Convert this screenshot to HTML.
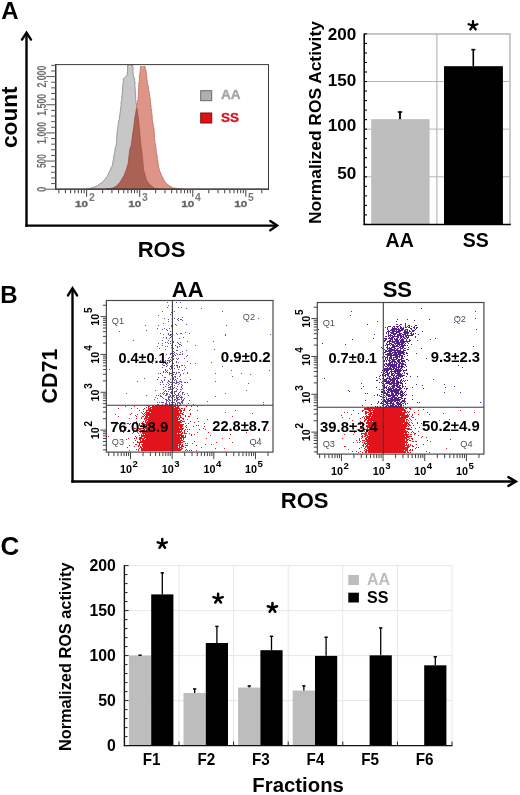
<!DOCTYPE html>
<html><head><meta charset="utf-8"><style>
html,body{margin:0;padding:0;background:#fff;}
svg{display:block;font-family:"Liberation Sans", sans-serif;filter:blur(0.3px);}
</style></head><body>
<svg width="520" height="795" viewBox="0 0 520 795" font-family='"Liberation Sans", sans-serif'>
<rect width="520" height="795" fill="#fff"/>
<text x="1.20" y="19.00" font-size="24" font-weight="bold" fill="#000" text-anchor="start" >A</text>
<text x="0.20" y="303.40" font-size="24" font-weight="bold" fill="#000" text-anchor="start" >B</text>
<text x="0.40" y="554.60" font-size="26" font-weight="bold" fill="#000" text-anchor="start" >C</text>
<line x1="26.50" y1="33.00" x2="26.50" y2="226.80" stroke="#000" stroke-width="2.4" />
<line x1="25.30" y1="225.60" x2="277.00" y2="225.60" stroke="#000" stroke-width="2.3" />
<polyline points="22.00,39.60 26.50,32.60 31.00,39.60" fill="none" stroke="#000" stroke-width="2.4" stroke-linejoin="miter" stroke-miterlimit="10" stroke-linecap="round"/>
<polyline points="270.30,221.00 277.20,225.60 270.30,230.30" fill="none" stroke="#000" stroke-width="2.4" stroke-linejoin="miter" stroke-miterlimit="10" stroke-linecap="round"/>
<text transform="translate(17.30,117.20) rotate(-90)" x="0" y="0" font-size="22.6" font-weight="bold" fill="#000" text-anchor="middle" >count</text>
<text x="161.50" y="257.00" font-size="22" font-weight="bold" fill="#000" text-anchor="middle" >ROS</text>
<polygon points="127.47,65.50 127.59,67.00 127.47,68.50 127.56,70.00 127.54,71.50 127.22,73.00 127.17,74.50 126.62,76.00 124.68,77.50 123.23,79.00 123.49,80.50 123.11,82.00 123.18,83.50 122.88,85.00 122.84,86.50 122.48,88.00 122.61,89.50 122.59,91.00 122.29,92.50 122.26,94.00 122.09,95.50 121.65,97.00 121.86,98.50 121.65,100.00 121.31,101.50 120.99,103.00 121.22,104.50 120.84,106.00 120.77,107.50 120.66,109.00 120.39,110.50 120.31,112.00 119.86,113.50 119.88,115.00 119.51,116.50 119.57,118.00 119.35,119.50 118.71,121.00 118.45,122.50 118.21,124.00 118.30,125.50 117.76,127.00 117.62,128.50 117.31,130.00 117.27,131.50 117.07,133.00 116.91,134.50 116.89,136.00 116.75,137.50 116.77,139.00 116.51,140.50 116.50,142.00 116.32,143.50 116.25,145.00 115.73,146.50 115.11,148.00 115.10,149.50 114.88,151.00 114.62,152.50 114.23,154.00 114.07,155.50 113.59,157.00 113.68,158.50 113.32,160.00 112.95,161.50 112.61,163.00 112.78,164.50 112.19,166.00 111.09,167.50 110.79,169.00 109.94,170.50 109.15,172.00 108.56,173.50 108.13,175.00 107.17,176.50 105.73,178.00 105.00,179.50 103.34,181.00 102.13,182.50 99.75,184.00 97.52,185.50 94.49,187.00 89.50,188.50 86.25,189.20 160.17,189.20 156.95,188.50 152.75,187.00 150.85,185.50 149.24,184.00 148.03,182.50 147.14,181.00 146.55,179.50 146.02,178.00 145.44,176.50 144.93,175.00 144.86,173.50 144.23,172.00 144.01,170.50 143.52,169.00 143.36,167.50 143.10,166.00 143.25,164.50 142.97,163.00 142.69,161.50 142.57,160.00 142.70,158.50 142.26,157.00 142.16,155.50 142.22,154.00 141.98,152.50 141.56,151.00 141.75,149.50 141.28,148.00 140.97,146.50 140.85,145.00 140.61,143.50 140.46,142.00 140.36,140.50 140.22,139.00 140.23,137.50 140.04,136.00 139.81,134.50 140.04,133.00 139.78,131.50 139.34,130.00 139.20,128.50 139.42,127.00 139.25,125.50 138.93,124.00 138.94,122.50 138.68,121.00 138.59,119.50 138.10,118.00 138.18,116.50 137.96,115.00 137.45,113.50 137.52,112.00 137.23,110.50 136.82,109.00 136.87,107.50 136.65,106.00 136.67,104.50 136.12,103.00 135.88,101.50 135.91,100.00 135.67,98.50 135.62,97.00 135.75,95.50 135.50,94.00 135.38,92.50 135.30,91.00 135.24,89.50 135.08,88.00 134.96,86.50 134.83,85.00 135.00,83.50 134.94,82.00 134.53,80.50 134.71,79.00 133.90,77.50 133.40,76.00 133.24,74.50 133.11,73.00 132.98,71.50 132.86,70.00 133.11,68.50 132.82,67.00 132.90,65.50" fill="#c7c7c7" stroke="#8e8e8e" stroke-width="0.9" />
<polygon points="140.46,66.50 140.39,68.00 140.29,69.50 140.23,71.00 139.98,72.50 139.93,74.00 139.35,75.50 139.42,77.00 139.52,78.50 139.28,80.00 139.32,81.50 138.83,83.00 138.92,84.50 138.72,86.00 138.78,87.50 138.70,89.00 138.33,90.50 138.34,92.00 138.28,93.50 138.51,95.00 138.34,96.50 137.95,98.00 138.18,99.50 137.65,101.00 137.63,102.50 137.13,104.00 136.82,105.50 137.00,107.00 136.41,108.50 136.16,110.00 136.29,111.50 135.98,113.00 135.43,114.50 135.51,116.00 135.04,117.50 134.86,119.00 134.40,120.50 134.60,122.00 134.30,123.50 134.27,125.00 134.07,126.50 133.60,128.00 133.43,129.50 133.13,131.00 132.91,132.50 132.67,134.00 132.59,135.50 132.53,137.00 132.03,138.50 132.17,140.00 131.79,141.50 131.58,143.00 131.63,144.50 131.07,146.00 130.51,147.50 130.11,149.00 129.85,150.50 129.35,152.00 129.64,153.50 128.99,155.00 129.18,156.50 129.06,158.00 128.47,159.50 128.69,161.00 128.30,162.50 128.24,164.00 127.48,165.50 127.02,167.00 126.62,168.50 126.53,170.00 125.55,171.50 125.23,173.00 124.71,174.50 123.96,176.00 122.82,177.50 121.99,179.00 121.18,180.50 120.30,182.00 118.84,183.50 117.76,185.00 115.92,186.50 113.18,188.00 105.77,189.20 182.16,189.20 172.98,188.00 170.54,186.50 168.28,185.00 166.62,183.50 165.02,182.00 164.21,180.50 163.37,179.00 162.77,177.50 161.70,176.00 161.20,174.50 160.63,173.00 159.89,171.50 159.19,170.00 159.08,168.50 158.58,167.00 158.45,165.50 158.08,164.00 157.90,162.50 157.75,161.00 157.56,159.50 157.16,158.00 157.22,156.50 156.98,155.00 156.54,153.50 156.25,152.00 156.18,150.50 156.02,149.00 155.81,147.50 155.71,146.00 155.50,144.50 155.05,143.00 154.79,141.50 154.78,140.00 154.58,138.50 154.54,137.00 154.52,135.50 154.26,134.00 154.10,132.50 154.22,131.00 154.02,129.50 153.95,128.00 153.43,126.50 153.11,125.00 153.14,123.50 152.55,122.00 152.45,120.50 152.10,119.00 152.28,117.50 152.05,116.00 152.05,114.50 151.78,113.00 151.32,111.50 151.52,110.00 151.19,108.50 150.80,107.00 151.09,105.50 150.50,104.00 150.52,102.50 150.38,101.00 150.38,99.50 150.03,98.00 149.62,96.50 149.46,95.00 149.29,93.50 149.28,92.00 148.57,90.50 148.39,89.00 148.57,87.50 148.18,86.00 147.67,84.50 147.40,83.00 147.21,81.50 147.05,80.00 146.81,78.50 146.73,77.00 146.72,75.50 146.24,74.00 146.33,72.50 145.98,71.00 145.59,69.50 145.08,68.00 145.12,66.50" fill="#df9488" stroke="#c07468" stroke-width="0.9" />
<polygon points="136.56,108.50 136.30,110.00 136.04,111.50 135.79,113.00 135.53,114.50 135.28,116.00 135.03,117.50 134.77,119.00 134.54,120.50 134.38,122.00 134.21,123.50 134.04,125.00 133.87,126.50 133.70,128.00 133.50,129.50 133.29,131.00 133.09,132.50 132.89,134.00 132.69,135.50 132.48,137.00 132.28,138.50 132.08,140.00 131.87,141.50 131.67,143.00 131.47,144.50 131.08,146.00 130.60,147.50 130.12,149.00 129.74,150.50 129.57,152.00 129.40,153.50 129.23,155.00 129.06,156.50 128.89,158.00 128.71,159.50 128.54,161.00 128.37,162.50 128.20,164.00 127.72,165.50 127.25,167.00 126.77,168.50 126.30,170.00 125.70,171.50 125.10,173.00 124.50,174.50 123.74,176.00 122.90,177.50 122.06,179.00 121.17,180.50 120.17,182.00 119.03,183.50 117.63,185.00 115.78,186.50 113.00,188.00 106.00,189.20 160.00,189.20 154.50,188.00 152.10,186.50 150.37,185.00 148.97,183.50 147.83,182.00 146.83,180.50 146.22,179.00 145.80,177.50 145.38,176.00 144.96,174.50 144.54,173.00 144.12,171.50 143.70,170.00 143.55,168.50 143.40,167.00 143.25,165.50 143.10,164.00 142.95,162.50 142.80,161.00 142.65,159.50 142.50,158.00 142.35,156.50 142.20,155.00 142.05,153.50 141.90,152.00 141.75,150.50 141.52,149.00 141.25,147.50 140.98,146.00 140.76,144.50 140.64,143.00 140.51,141.50 140.39,140.00 140.26,138.50 140.14,137.00 140.02,135.50 139.89,134.00 139.77,132.50 139.65,131.00 139.52,129.50 139.40,128.00 139.25,126.50 139.10,125.00 138.95,123.50 138.80,122.00 138.65,120.50 138.46,119.00 138.25,117.50 138.04,116.00 137.83,114.50 137.62,113.00 137.41,111.50 137.20,110.00 136.99,108.50" fill="#ab6255" stroke="#94493d" stroke-width="0.6" />
<polygon points="129.30,65.10 130.70,65.10 130.00,68.00" fill="#eeeeee" stroke="none" stroke-width="1" />
<polygon points="141.90,66.40 143.10,66.40 142.50,69.00" fill="#f3e2de" stroke="none" stroke-width="1" />
<rect x="55.7" y="64.6" width="212.8" height="124.6" fill="none" stroke="#3a3a3a" stroke-width="1"/>
<line x1="55.70" y1="64.10" x2="55.70" y2="189.70" stroke="#333" stroke-width="1.3" />
<line x1="55.20" y1="189.20" x2="269.00" y2="189.20" stroke="#4a3a36" stroke-width="1.3" />
<line x1="46.20" y1="189.20" x2="55.70" y2="189.20" stroke="#555" stroke-width="1.0" />
<line x1="51.10" y1="183.57" x2="55.70" y2="183.57" stroke="#555" stroke-width="1.0" />
<line x1="51.10" y1="177.94" x2="55.70" y2="177.94" stroke="#555" stroke-width="1.0" />
<line x1="51.10" y1="172.31" x2="55.70" y2="172.31" stroke="#555" stroke-width="1.0" />
<line x1="51.10" y1="166.68" x2="55.70" y2="166.68" stroke="#555" stroke-width="1.0" />
<line x1="46.20" y1="161.05" x2="55.70" y2="161.05" stroke="#555" stroke-width="1.0" />
<line x1="51.10" y1="155.42" x2="55.70" y2="155.42" stroke="#555" stroke-width="1.0" />
<line x1="51.10" y1="149.79" x2="55.70" y2="149.79" stroke="#555" stroke-width="1.0" />
<line x1="51.10" y1="144.16" x2="55.70" y2="144.16" stroke="#555" stroke-width="1.0" />
<line x1="51.10" y1="138.53" x2="55.70" y2="138.53" stroke="#555" stroke-width="1.0" />
<line x1="46.20" y1="132.90" x2="55.70" y2="132.90" stroke="#555" stroke-width="1.0" />
<line x1="51.10" y1="127.27" x2="55.70" y2="127.27" stroke="#555" stroke-width="1.0" />
<line x1="51.10" y1="121.64" x2="55.70" y2="121.64" stroke="#555" stroke-width="1.0" />
<line x1="51.10" y1="116.01" x2="55.70" y2="116.01" stroke="#555" stroke-width="1.0" />
<line x1="51.10" y1="110.38" x2="55.70" y2="110.38" stroke="#555" stroke-width="1.0" />
<line x1="46.20" y1="104.75" x2="55.70" y2="104.75" stroke="#555" stroke-width="1.0" />
<line x1="51.10" y1="99.12" x2="55.70" y2="99.12" stroke="#555" stroke-width="1.0" />
<line x1="51.10" y1="93.49" x2="55.70" y2="93.49" stroke="#555" stroke-width="1.0" />
<line x1="51.10" y1="87.86" x2="55.70" y2="87.86" stroke="#555" stroke-width="1.0" />
<line x1="51.10" y1="82.23" x2="55.70" y2="82.23" stroke="#555" stroke-width="1.0" />
<line x1="46.20" y1="76.60" x2="55.70" y2="76.60" stroke="#555" stroke-width="1.0" />
<line x1="51.10" y1="70.97" x2="55.70" y2="70.97" stroke="#555" stroke-width="1.0" />
<line x1="51.10" y1="65.34" x2="55.70" y2="65.34" stroke="#555" stroke-width="1.0" />
<text transform="translate(45.90,189.20) rotate(-90)" x="0" y="0" font-size="13" font-weight="bold" fill="#6c6c6c" text-anchor="middle" textLength="5.4" lengthAdjust="spacingAndGlyphs">0</text>
<text transform="translate(45.90,161.05) rotate(-90)" x="0" y="0" font-size="13" font-weight="bold" fill="#6c6c6c" text-anchor="middle" textLength="14.0" lengthAdjust="spacingAndGlyphs">500</text>
<text transform="translate(45.90,132.90) rotate(-90)" x="0" y="0" font-size="13" font-weight="bold" fill="#6c6c6c" text-anchor="middle" textLength="22.0" lengthAdjust="spacingAndGlyphs">1,000</text>
<text transform="translate(45.90,104.75) rotate(-90)" x="0" y="0" font-size="13" font-weight="bold" fill="#6c6c6c" text-anchor="middle" textLength="22.0" lengthAdjust="spacingAndGlyphs">1,500</text>
<text transform="translate(45.90,76.60) rotate(-90)" x="0" y="0" font-size="13" font-weight="bold" fill="#6c6c6c" text-anchor="middle" textLength="22.0" lengthAdjust="spacingAndGlyphs">2,000</text>
<line x1="58.85" y1="189.20" x2="58.85" y2="193.20" stroke="#505050" stroke-width="1.1" />
<line x1="65.48" y1="189.20" x2="65.48" y2="193.20" stroke="#505050" stroke-width="1.1" />
<line x1="70.62" y1="189.20" x2="70.62" y2="193.20" stroke="#505050" stroke-width="1.1" />
<line x1="74.83" y1="189.20" x2="74.83" y2="193.20" stroke="#505050" stroke-width="1.1" />
<line x1="78.38" y1="189.20" x2="78.38" y2="193.20" stroke="#505050" stroke-width="1.1" />
<line x1="81.46" y1="189.20" x2="81.46" y2="193.20" stroke="#505050" stroke-width="1.1" />
<line x1="84.17" y1="189.20" x2="84.17" y2="193.20" stroke="#505050" stroke-width="1.1" />
<line x1="86.60" y1="189.20" x2="86.60" y2="196.80" stroke="#505050" stroke-width="1.1" />
<line x1="102.58" y1="189.20" x2="102.58" y2="193.20" stroke="#505050" stroke-width="1.1" />
<line x1="111.92" y1="189.20" x2="111.92" y2="193.20" stroke="#505050" stroke-width="1.1" />
<line x1="118.55" y1="189.20" x2="118.55" y2="193.20" stroke="#505050" stroke-width="1.1" />
<line x1="123.69" y1="189.20" x2="123.69" y2="193.20" stroke="#505050" stroke-width="1.1" />
<line x1="127.90" y1="189.20" x2="127.90" y2="193.20" stroke="#505050" stroke-width="1.1" />
<line x1="131.45" y1="189.20" x2="131.45" y2="193.20" stroke="#505050" stroke-width="1.1" />
<line x1="134.53" y1="189.20" x2="134.53" y2="193.20" stroke="#505050" stroke-width="1.1" />
<line x1="137.24" y1="189.20" x2="137.24" y2="193.20" stroke="#505050" stroke-width="1.1" />
<line x1="139.67" y1="189.20" x2="139.67" y2="196.80" stroke="#505050" stroke-width="1.1" />
<line x1="155.65" y1="189.20" x2="155.65" y2="193.20" stroke="#505050" stroke-width="1.1" />
<line x1="164.99" y1="189.20" x2="164.99" y2="193.20" stroke="#505050" stroke-width="1.1" />
<line x1="171.62" y1="189.20" x2="171.62" y2="193.20" stroke="#505050" stroke-width="1.1" />
<line x1="176.76" y1="189.20" x2="176.76" y2="193.20" stroke="#505050" stroke-width="1.1" />
<line x1="180.97" y1="189.20" x2="180.97" y2="193.20" stroke="#505050" stroke-width="1.1" />
<line x1="184.52" y1="189.20" x2="184.52" y2="193.20" stroke="#505050" stroke-width="1.1" />
<line x1="187.60" y1="189.20" x2="187.60" y2="193.20" stroke="#505050" stroke-width="1.1" />
<line x1="190.31" y1="189.20" x2="190.31" y2="193.20" stroke="#505050" stroke-width="1.1" />
<line x1="192.74" y1="189.20" x2="192.74" y2="196.80" stroke="#505050" stroke-width="1.1" />
<line x1="208.72" y1="189.20" x2="208.72" y2="193.20" stroke="#505050" stroke-width="1.1" />
<line x1="218.06" y1="189.20" x2="218.06" y2="193.20" stroke="#505050" stroke-width="1.1" />
<line x1="224.69" y1="189.20" x2="224.69" y2="193.20" stroke="#505050" stroke-width="1.1" />
<line x1="229.83" y1="189.20" x2="229.83" y2="193.20" stroke="#505050" stroke-width="1.1" />
<line x1="234.04" y1="189.20" x2="234.04" y2="193.20" stroke="#505050" stroke-width="1.1" />
<line x1="237.59" y1="189.20" x2="237.59" y2="193.20" stroke="#505050" stroke-width="1.1" />
<line x1="240.67" y1="189.20" x2="240.67" y2="193.20" stroke="#505050" stroke-width="1.1" />
<line x1="243.38" y1="189.20" x2="243.38" y2="193.20" stroke="#505050" stroke-width="1.1" />
<line x1="245.81" y1="189.20" x2="245.81" y2="196.80" stroke="#505050" stroke-width="1.1" />
<line x1="261.79" y1="189.20" x2="261.79" y2="193.20" stroke="#505050" stroke-width="1.1" />
<text x="75.10" y="207.20" font-size="9.8" font-weight="bold" fill="#686868" text-anchor="start" textLength="13.0" lengthAdjust="spacingAndGlyphs" stroke="#686868" stroke-width="0.35">10</text>
<text x="88.90" y="201.40" font-size="10.4" font-weight="bold" fill="#787878" text-anchor="start" >2</text>
<text x="128.17" y="207.20" font-size="9.8" font-weight="bold" fill="#686868" text-anchor="start" textLength="13.0" lengthAdjust="spacingAndGlyphs" stroke="#686868" stroke-width="0.35">10</text>
<text x="141.97" y="201.40" font-size="10.4" font-weight="bold" fill="#787878" text-anchor="start" >3</text>
<text x="181.24" y="207.20" font-size="9.8" font-weight="bold" fill="#686868" text-anchor="start" textLength="13.0" lengthAdjust="spacingAndGlyphs" stroke="#686868" stroke-width="0.35">10</text>
<text x="195.04" y="201.40" font-size="10.4" font-weight="bold" fill="#787878" text-anchor="start" >4</text>
<text x="234.31" y="207.20" font-size="9.8" font-weight="bold" fill="#686868" text-anchor="start" textLength="13.0" lengthAdjust="spacingAndGlyphs" stroke="#686868" stroke-width="0.35">10</text>
<text x="248.11" y="201.40" font-size="10.4" font-weight="bold" fill="#787878" text-anchor="start" >5</text>
<rect x="200.70" y="90.70" width="11.00" height="10.00" fill="#b0b0b0" stroke="#6a6a6a" stroke-width="1"/>
<rect x="200.70" y="113.00" width="11.00" height="10.00" fill="#e10e14" stroke="#7a1010" stroke-width="1"/>
<text x="221.00" y="99.20" font-size="13.5" font-weight="bold" fill="#a4a4a4" text-anchor="start" stroke="#a4a4a4" stroke-width="0.35">AA</text>
<text x="221.00" y="121.90" font-size="13.5" font-weight="bold" fill="#cf1620" text-anchor="start" stroke="#cf1620" stroke-width="0.35">SS</text>
<line x1="364.20" y1="176.78" x2="509.90" y2="176.78" stroke="#b4b4b4" stroke-width="1" />
<line x1="364.20" y1="129.15" x2="509.90" y2="129.15" stroke="#b4b4b4" stroke-width="1" />
<line x1="364.20" y1="81.53" x2="509.90" y2="81.53" stroke="#b4b4b4" stroke-width="1" />
<line x1="364.20" y1="34.00" x2="510.90" y2="34.00" stroke="#c6c6c6" stroke-width="1.9" />
<line x1="509.90" y1="33.10" x2="509.90" y2="224.40" stroke="#c6c6c6" stroke-width="1.9" />
<line x1="436.90" y1="34.00" x2="436.90" y2="224.40" stroke="#b8b8b8" stroke-width="1.2" />
<rect x="371.20" y="119.15" width="58.40" height="105.25" fill="#bebebe" />
<rect x="444.00" y="66.19" width="58.90" height="158.21" fill="#000" />
<line x1="400.00" y1="119.15" x2="400.00" y2="111.53" stroke="#000" stroke-width="1.8" />
<line x1="397.80" y1="112.03" x2="402.20" y2="112.03" stroke="#000" stroke-width="1.6" />
<line x1="473.30" y1="66.19" x2="473.30" y2="49.14" stroke="#000" stroke-width="1.6" />
<line x1="471.30" y1="49.64" x2="475.30" y2="49.64" stroke="#000" stroke-width="1.6" />
<line x1="364.20" y1="33.40" x2="364.20" y2="225.10" stroke="#000" stroke-width="1.5" />
<line x1="363.50" y1="224.40" x2="510.80" y2="224.40" stroke="#000" stroke-width="1.5" />
<line x1="364.20" y1="224.40" x2="367.00" y2="224.40" stroke="#000" stroke-width="1.1" />
<line x1="364.20" y1="214.88" x2="367.00" y2="214.88" stroke="#000" stroke-width="1.1" />
<line x1="364.20" y1="205.35" x2="367.00" y2="205.35" stroke="#000" stroke-width="1.1" />
<line x1="364.20" y1="195.83" x2="367.00" y2="195.83" stroke="#000" stroke-width="1.1" />
<line x1="364.20" y1="186.30" x2="367.00" y2="186.30" stroke="#000" stroke-width="1.1" />
<line x1="364.20" y1="176.78" x2="367.00" y2="176.78" stroke="#000" stroke-width="1.1" />
<line x1="364.20" y1="167.25" x2="367.00" y2="167.25" stroke="#000" stroke-width="1.1" />
<line x1="364.20" y1="157.73" x2="367.00" y2="157.73" stroke="#000" stroke-width="1.1" />
<line x1="364.20" y1="148.20" x2="367.00" y2="148.20" stroke="#000" stroke-width="1.1" />
<line x1="364.20" y1="138.68" x2="367.00" y2="138.68" stroke="#000" stroke-width="1.1" />
<line x1="364.20" y1="129.15" x2="367.00" y2="129.15" stroke="#000" stroke-width="1.1" />
<line x1="364.20" y1="119.62" x2="367.00" y2="119.62" stroke="#000" stroke-width="1.1" />
<line x1="364.20" y1="110.10" x2="367.00" y2="110.10" stroke="#000" stroke-width="1.1" />
<line x1="364.20" y1="100.58" x2="367.00" y2="100.58" stroke="#000" stroke-width="1.1" />
<line x1="364.20" y1="91.05" x2="367.00" y2="91.05" stroke="#000" stroke-width="1.1" />
<line x1="364.20" y1="81.53" x2="367.00" y2="81.53" stroke="#000" stroke-width="1.1" />
<line x1="364.20" y1="72.00" x2="367.00" y2="72.00" stroke="#000" stroke-width="1.1" />
<line x1="364.20" y1="62.47" x2="367.00" y2="62.47" stroke="#000" stroke-width="1.1" />
<line x1="364.20" y1="52.95" x2="367.00" y2="52.95" stroke="#000" stroke-width="1.1" />
<line x1="364.20" y1="43.43" x2="367.00" y2="43.43" stroke="#000" stroke-width="1.1" />
<line x1="364.20" y1="33.90" x2="367.00" y2="33.90" stroke="#000" stroke-width="1.1" />
<text x="356.30" y="178.60" font-size="17.1" font-weight="bold" fill="#000" text-anchor="end" >50</text>
<text x="356.30" y="131.30" font-size="17.1" font-weight="bold" fill="#000" text-anchor="end" >100</text>
<text x="356.30" y="85.50" font-size="17.1" font-weight="bold" fill="#000" text-anchor="end" >150</text>
<text x="356.30" y="40.20" font-size="17.1" font-weight="bold" fill="#000" text-anchor="end" >200</text>
<text transform="translate(320.60,122.60) rotate(-90)" x="0" y="0" font-size="17" font-weight="bold" fill="#000" text-anchor="middle" textLength="203" lengthAdjust="spacingAndGlyphs">Normalized ROS Activity</text>
<text x="399.70" y="246.80" font-size="19.5" font-weight="bold" fill="#000" text-anchor="middle" >AA</text>
<text x="475.80" y="246.80" font-size="19.5" font-weight="bold" fill="#000" text-anchor="middle" >SS</text>
<path d="M473.00 25.70L473.00 21.10M473.00 25.70L477.37 24.28M473.00 25.70L475.70 29.42M473.00 25.70L470.30 29.42M473.00 25.70L468.63 24.28" stroke="#000" stroke-width="2.3" stroke-linecap="round" fill="none"/>
<line x1="72.50" y1="289.00" x2="72.50" y2="482.60" stroke="#000" stroke-width="2.4" />
<line x1="71.40" y1="481.50" x2="516.00" y2="481.50" stroke="#000" stroke-width="2.3" />
<polyline points="68.00,295.40 72.50,288.20 77.10,295.40" fill="none" stroke="#000" stroke-width="2.4" stroke-linejoin="miter" stroke-miterlimit="10" stroke-linecap="round"/>
<polyline points="508.40,477.10 515.90,481.50 508.40,485.90" fill="none" stroke="#000" stroke-width="2.4" stroke-linejoin="miter" stroke-miterlimit="10" stroke-linecap="round"/>
<text transform="translate(57.20,376.10) rotate(-90)" x="0" y="0" font-size="21.5" font-weight="bold" fill="#000" text-anchor="middle" >CD71</text>
<text x="304.60" y="508.20" font-size="22" font-weight="bold" fill="#000" text-anchor="middle" >ROS</text>
<path d="M146 405h2v1h-2zM150 405h1v1h-1zM152 405h2v1h-2zM155 405h18v1h-18zM174 405h4v1h-4zM179 405h1v1h-1zM186 405h1v1h-1zM125 406h1v1h-1zM134 406h1v1h-1zM148 406h2v1h-2zM152 406h24v1h-24zM177 406h2v1h-2zM186 406h1v1h-1zM191 406h1v1h-1zM197 406h1v1h-1zM146 407h1v1h-1zM148 407h1v1h-1zM150 407h24v1h-24zM175 407h4v1h-4zM118 408h1v1h-1zM131 408h1v1h-1zM137 408h1v1h-1zM144 408h1v1h-1zM148 408h3v1h-3zM152 408h28v1h-28zM181 408h2v1h-2zM184 408h1v1h-1zM143 409h1v1h-1zM148 409h30v1h-30zM179 409h2v1h-2zM184 409h1v1h-1zM190 409h1v1h-1zM139 410h1v1h-1zM146 410h36v1h-36zM183 410h2v1h-2zM189 410h1v1h-1zM197 410h1v1h-1zM235 410h1v1h-1zM143 411h1v1h-1zM146 411h1v1h-1zM149 411h30v1h-30zM180 411h2v1h-2zM141 412h1v1h-1zM145 412h5v1h-5zM151 412h28v1h-28zM180 412h1v1h-1zM183 412h1v1h-1zM225 412h1v1h-1zM131 413h1v1h-1zM142 413h1v1h-1zM144 413h1v1h-1zM146 413h37v1h-37zM190 413h1v1h-1zM252 413h1v1h-1zM115 414h1v1h-1zM130 414h1v1h-1zM137 414h1v1h-1zM143 414h1v1h-1zM145 414h35v1h-35zM182 414h2v1h-2zM190 414h1v1h-1zM135 415h1v1h-1zM144 415h1v1h-1zM146 415h35v1h-35zM185 415h1v1h-1zM118 416h1v1h-1zM136 416h1v1h-1zM142 416h2v1h-2zM145 416h3v1h-3zM149 416h28v1h-28zM178 416h1v1h-1zM180 416h1v1h-1zM185 416h1v1h-1zM188 416h2v1h-2zM232 416h1v1h-1zM141 417h1v1h-1zM145 417h34v1h-34zM180 417h2v1h-2zM129 418h1v1h-1zM136 418h1v1h-1zM141 418h1v1h-1zM144 418h3v1h-3zM148 418h30v1h-30zM179 418h1v1h-1zM182 418h2v1h-2zM197 418h1v1h-1zM144 419h1v1h-1zM146 419h34v1h-34zM183 419h1v1h-1zM187 419h1v1h-1zM207 419h1v1h-1zM145 420h2v1h-2zM148 420h30v1h-30zM180 420h2v1h-2zM136 421h1v1h-1zM143 421h1v1h-1zM145 421h1v1h-1zM147 421h34v1h-34zM182 421h3v1h-3zM190 421h1v1h-1zM198 421h1v1h-1zM122 422h1v1h-1zM136 422h1v1h-1zM142 422h1v1h-1zM145 422h37v1h-37zM194 422h1v1h-1zM118 423h1v1h-1zM127 423h2v1h-2zM130 423h1v1h-1zM139 423h1v1h-1zM141 423h2v1h-2zM146 423h34v1h-34zM185 423h1v1h-1zM188 423h1v1h-1zM204 423h1v1h-1zM129 424h1v1h-1zM139 424h1v1h-1zM142 424h1v1h-1zM144 424h40v1h-40zM139 425h1v1h-1zM141 425h1v1h-1zM143 425h2v1h-2zM146 425h37v1h-37zM186 425h1v1h-1zM196 425h1v1h-1zM198 425h1v1h-1zM140 426h1v1h-1zM143 426h2v1h-2zM146 426h1v1h-1zM148 426h35v1h-35zM185 426h1v1h-1zM193 426h1v1h-1zM204 426h1v1h-1zM126 427h1v1h-1zM132 427h1v1h-1zM143 427h36v1h-36zM180 427h2v1h-2zM186 427h1v1h-1zM124 428h1v1h-1zM134 428h2v1h-2zM138 428h5v1h-5zM145 428h39v1h-39zM203 428h1v1h-1zM139 429h2v1h-2zM144 429h1v1h-1zM146 429h37v1h-37zM185 429h1v1h-1zM187 429h1v1h-1zM189 429h1v1h-1zM199 429h1v1h-1zM205 429h1v1h-1zM137 430h2v1h-2zM141 430h4v1h-4zM146 430h34v1h-34zM181 430h1v1h-1zM184 430h1v1h-1zM268 430h1v1h-1zM120 431h1v1h-1zM127 431h2v1h-2zM133 431h1v1h-1zM137 431h1v1h-1zM139 431h1v1h-1zM143 431h39v1h-39zM184 431h1v1h-1zM187 431h1v1h-1zM123 432h1v1h-1zM133 432h1v1h-1zM137 432h1v1h-1zM140 432h1v1h-1zM142 432h39v1h-39zM182 432h1v1h-1zM184 432h1v1h-1zM197 432h1v1h-1zM208 432h1v1h-1zM246 432h1v1h-1zM132 433h1v1h-1zM138 433h1v1h-1zM142 433h35v1h-35zM178 433h1v1h-1zM181 433h2v1h-2zM184 433h3v1h-3zM189 433h1v1h-1zM141 434h1v1h-1zM143 434h1v1h-1zM145 434h37v1h-37zM191 434h1v1h-1zM194 434h1v1h-1zM230 434h1v1h-1zM139 435h1v1h-1zM141 435h43v1h-43zM185 435h1v1h-1zM191 435h1v1h-1zM210 435h1v1h-1zM108 436h1v1h-1zM135 436h1v1h-1zM141 436h39v1h-39zM181 436h3v1h-3zM185 436h1v1h-1zM136 437h1v1h-1zM139 437h3v1h-3zM144 437h42v1h-42zM128 438h1v1h-1zM134 438h1v1h-1zM136 438h1v1h-1zM139 438h6v1h-6zM146 438h36v1h-36zM183 438h1v1h-1zM206 438h1v1h-1zM222 438h1v1h-1zM229 438h1v1h-1zM259 438h1v1h-1zM126 439h1v1h-1zM139 439h2v1h-2zM142 439h2v1h-2zM145 439h35v1h-35zM181 439h1v1h-1zM183 439h1v1h-1zM135 440h1v1h-1zM140 440h1v1h-1zM142 440h41v1h-41zM137 441h1v1h-1zM140 441h41v1h-41zM183 441h2v1h-2zM194 441h1v1h-1zM133 442h1v1h-1zM137 442h46v1h-46zM216 442h1v1h-1zM232 442h1v1h-1zM257 442h1v1h-1zM139 443h1v1h-1zM143 443h38v1h-38zM185 443h1v1h-1zM187 443h1v1h-1zM192 443h1v1h-1zM135 444h2v1h-2zM139 444h1v1h-1zM141 444h37v1h-37zM179 444h2v1h-2zM182 444h1v1h-1zM205 444h1v1h-1zM211 444h1v1h-1zM129 445h1v1h-1zM138 445h2v1h-2zM142 445h38v1h-38zM181 445h2v1h-2zM185 445h3v1h-3zM196 445h1v1h-1zM134 446h1v1h-1zM138 446h1v1h-1zM140 446h1v1h-1zM142 446h36v1h-36zM179 446h1v1h-1zM181 446h3v1h-3zM127 447h1v1h-1zM140 447h2v1h-2zM143 447h35v1h-35zM179 447h3v1h-3zM185 447h1v1h-1zM201 447h1v1h-1zM139 448h1v1h-1zM141 448h39v1h-39zM181 448h2v1h-2zM215 448h1v1h-1zM224 448h1v1h-1zM136 449h1v1h-1zM138 449h1v1h-1zM141 449h41v1h-41zM186 449h1v1h-1zM129 450h1v1h-1zM138 450h1v1h-1zM141 450h40v1h-40zM185 450h1v1h-1zM187 450h1v1h-1zM189 450h1v1h-1zM191 450h1v1h-1zM196 450h1v1h-1z" fill="#e2131a"/>
<path d="M167 302h1v1h-1zM176 302h1v1h-1zM180 302h1v1h-1zM168 305h1v1h-1zM172 306h1v1h-1zM167 307h1v1h-1zM178 307h1v1h-1zM181 307h1v1h-1zM186 308h1v1h-1zM201 308h1v1h-1zM172 310h1v1h-1zM162 311h1v1h-1zM174 311h1v1h-1zM222 311h1v1h-1zM171 312h1v1h-1zM170 314h1v1h-1zM172 314h1v1h-1zM158 315h1v1h-1zM182 317h1v1h-1zM164 318h1v1h-1zM174 318h1v1h-1zM178 318h1v1h-1zM258 318h1v1h-1zM168 319h1v1h-1zM177 319h1v1h-1zM180 319h2v1h-2zM178 320h1v1h-1zM182 320h1v1h-1zM168 321h1v1h-1zM163 323h1v1h-1zM175 324h1v1h-1zM186 324h1v1h-1zM145 325h1v1h-1zM158 325h1v1h-1zM171 325h1v1h-1zM176 325h1v1h-1zM226 325h1v1h-1zM171 326h1v1h-1zM157 328h1v1h-1zM164 328h1v1h-1zM169 328h1v1h-1zM162 329h1v1h-1zM166 329h1v1h-1zM146 330h1v1h-1zM167 330h1v1h-1zM119 331h1v1h-1zM170 331h1v1h-1zM185 332h1v1h-1zM160 333h1v1h-1zM168 333h1v1h-1zM176 333h1v1h-1zM180 333h2v1h-2zM189 333h1v1h-1zM163 334h1v1h-1zM168 334h1v1h-1zM170 334h2v1h-2zM177 334h1v1h-1zM225 334h1v1h-1zM270 334h1v1h-1zM169 335h2v1h-2zM225 335h1v1h-1zM171 336h1v1h-1zM163 337h1v1h-1zM166 337h1v1h-1zM170 337h1v1h-1zM183 337h1v1h-1zM166 338h1v1h-1zM169 338h1v1h-1zM179 338h1v1h-1zM133 340h1v1h-1zM162 340h1v1h-1zM168 340h1v1h-1zM170 341h1v1h-1zM173 341h1v1h-1zM187 341h1v1h-1zM213 341h1v1h-1zM165 342h1v1h-1zM167 342h1v1h-1zM173 342h1v1h-1zM177 342h1v1h-1zM180 342h1v1h-1zM158 343h1v1h-1zM162 343h1v1h-1zM168 343h1v1h-1zM170 343h1v1h-1zM178 343h1v1h-1zM179 344h2v1h-2zM162 345h1v1h-1zM171 345h1v1h-1zM175 345h1v1h-1zM181 345h1v1h-1zM195 345h1v1h-1zM157 346h1v1h-1zM165 346h1v1h-1zM167 346h1v1h-1zM177 346h1v1h-1zM179 346h1v1h-1zM171 347h2v1h-2zM177 347h1v1h-1zM159 348h1v1h-1zM173 348h1v1h-1zM165 349h1v1h-1zM172 349h1v1h-1zM214 349h1v1h-1zM176 350h2v1h-2zM186 350h1v1h-1zM173 351h1v1h-1zM182 351h1v1h-1zM174 352h1v1h-1zM180 352h1v1h-1zM170 353h4v1h-4zM176 353h1v1h-1zM182 353h1v1h-1zM166 354h1v1h-1zM170 354h1v1h-1zM174 354h1v1h-1zM177 354h1v1h-1zM179 354h2v1h-2zM182 354h1v1h-1zM173 355h1v1h-1zM175 355h1v1h-1zM187 355h1v1h-1zM162 356h1v1h-1zM173 356h1v1h-1zM186 356h1v1h-1zM228 356h1v1h-1zM169 357h1v1h-1zM171 357h1v1h-1zM155 358h1v1h-1zM168 358h1v1h-1zM173 358h1v1h-1zM176 358h1v1h-1zM178 358h1v1h-1zM184 358h1v1h-1zM162 359h1v1h-1zM170 359h1v1h-1zM173 359h1v1h-1zM177 359h1v1h-1zM160 360h1v1h-1zM165 360h1v1h-1zM167 360h3v1h-3zM171 360h1v1h-1zM256 360h1v1h-1zM159 361h2v1h-2zM169 361h2v1h-2zM176 361h1v1h-1zM187 361h1v1h-1zM162 362h1v1h-1zM167 362h1v1h-1zM169 362h1v1h-1zM176 362h1v1h-1zM178 362h1v1h-1zM211 362h1v1h-1zM152 363h1v1h-1zM163 363h1v1h-1zM165 363h3v1h-3zM173 363h1v1h-1zM190 363h1v1h-1zM195 363h1v1h-1zM162 364h1v1h-1zM166 364h1v1h-1zM163 365h2v1h-2zM167 365h1v1h-1zM171 365h1v1h-1zM174 365h1v1h-1zM176 365h2v1h-2zM181 365h2v1h-2zM184 365h1v1h-1zM166 366h1v1h-1zM170 366h2v1h-2zM177 366h1v1h-1zM179 366h1v1h-1zM222 366h1v1h-1zM162 367h1v1h-1zM171 367h2v1h-2zM177 367h1v1h-1zM179 367h1v1h-1zM185 367h1v1h-1zM169 368h1v1h-1zM171 368h2v1h-2zM174 368h1v1h-1zM109 369h1v1h-1zM165 369h1v1h-1zM170 369h1v1h-1zM178 369h1v1h-1zM184 369h1v1h-1zM165 370h1v1h-1zM167 370h1v1h-1zM172 370h1v1h-1zM182 370h1v1h-1zM231 370h1v1h-1zM269 370h1v1h-1zM163 371h1v1h-1zM166 371h1v1h-1zM163 372h1v1h-1zM165 372h1v1h-1zM167 372h1v1h-1zM169 372h1v1h-1zM173 372h2v1h-2zM176 372h1v1h-1zM178 372h2v1h-2zM187 372h1v1h-1zM158 373h1v1h-1zM160 373h1v1h-1zM169 373h3v1h-3zM176 373h1v1h-1zM183 373h1v1h-1zM187 373h1v1h-1zM215 373h1v1h-1zM241 373h1v1h-1zM169 374h1v1h-1zM173 374h1v1h-1zM175 374h1v1h-1zM180 374h1v1h-1zM250 374h1v1h-1zM162 375h1v1h-1zM171 375h1v1h-1zM180 375h1v1h-1zM172 376h1v1h-1zM174 376h2v1h-2zM179 376h1v1h-1zM232 376h1v1h-1zM158 377h1v1h-1zM164 377h2v1h-2zM173 377h1v1h-1zM175 377h1v1h-1zM144 378h1v1h-1zM173 378h1v1h-1zM177 378h1v1h-1zM157 379h1v1h-1zM164 379h1v1h-1zM170 379h1v1h-1zM173 379h1v1h-1zM175 379h1v1h-1zM180 379h1v1h-1zM190 379h1v1h-1zM161 380h1v1h-1zM164 380h1v1h-1zM168 380h1v1h-1zM174 380h1v1h-1zM176 380h1v1h-1zM137 381h1v1h-1zM162 381h1v1h-1zM168 381h2v1h-2zM176 381h1v1h-1zM179 381h3v1h-3zM215 381h1v1h-1zM160 382h1v1h-1zM162 382h1v1h-1zM167 382h1v1h-1zM170 382h2v1h-2zM173 382h2v1h-2zM176 382h3v1h-3zM181 382h1v1h-1zM184 382h2v1h-2zM187 382h1v1h-1zM168 383h1v1h-1zM175 383h2v1h-2zM179 383h1v1h-1zM248 383h1v1h-1zM160 384h1v1h-1zM163 384h1v1h-1zM166 384h1v1h-1zM169 384h1v1h-1zM171 384h1v1h-1zM178 384h1v1h-1zM181 384h1v1h-1zM168 385h1v1h-1zM174 385h1v1h-1zM182 385h1v1h-1zM165 386h1v1h-1zM170 386h3v1h-3zM177 386h1v1h-1zM181 386h1v1h-1zM163 387h1v1h-1zM168 387h3v1h-3zM174 387h1v1h-1zM181 387h1v1h-1zM170 388h1v1h-1zM173 388h1v1h-1zM176 388h1v1h-1zM182 388h1v1h-1zM163 389h1v1h-1zM168 389h5v1h-5zM177 389h1v1h-1zM180 389h2v1h-2zM155 390h1v1h-1zM165 390h1v1h-1zM176 390h1v1h-1zM246 390h1v1h-1zM164 391h1v1h-1zM166 391h1v1h-1zM168 391h1v1h-1zM171 391h2v1h-2zM174 391h3v1h-3zM180 391h1v1h-1zM163 392h1v1h-1zM170 392h3v1h-3zM174 392h1v1h-1zM179 392h1v1h-1zM182 392h2v1h-2zM126 393h1v1h-1zM160 393h1v1h-1zM162 393h1v1h-1zM164 393h1v1h-1zM166 393h2v1h-2zM171 393h2v1h-2zM174 393h1v1h-1zM178 393h1v1h-1zM182 393h1v1h-1zM187 393h1v1h-1zM225 393h1v1h-1zM163 394h1v1h-1zM166 394h2v1h-2zM169 394h1v1h-1zM175 394h1v1h-1zM178 394h1v1h-1zM182 394h1v1h-1zM184 394h1v1h-1zM146 395h1v1h-1zM156 395h1v1h-1zM158 395h1v1h-1zM160 395h1v1h-1zM165 395h2v1h-2zM170 395h1v1h-1zM173 395h2v1h-2zM176 395h3v1h-3zM180 395h1v1h-1zM188 395h1v1h-1zM160 396h2v1h-2zM168 396h3v1h-3zM173 396h1v1h-1zM176 396h1v1h-1zM179 396h1v1h-1zM181 396h1v1h-1zM215 396h1v1h-1zM155 397h1v1h-1zM162 397h1v1h-1zM168 397h2v1h-2zM171 397h1v1h-1zM174 397h1v1h-1zM176 397h3v1h-3zM180 397h3v1h-3zM157 398h1v1h-1zM163 398h1v1h-1zM168 398h1v1h-1zM176 398h2v1h-2zM181 398h1v1h-1zM184 398h1v1h-1zM154 399h1v1h-1zM165 399h2v1h-2zM168 399h2v1h-2zM172 399h1v1h-1zM174 399h2v1h-2zM177 399h3v1h-3zM181 399h1v1h-1zM183 399h1v1h-1zM166 400h2v1h-2zM169 400h2v1h-2zM174 400h1v1h-1zM176 400h2v1h-2zM182 400h2v1h-2zM189 400h1v1h-1zM166 401h1v1h-1zM168 401h1v1h-1zM172 401h1v1h-1zM176 401h1v1h-1zM181 401h2v1h-2zM207 401h1v1h-1zM157 402h1v1h-1zM159 402h1v1h-1zM161 402h3v1h-3zM166 402h1v1h-1zM169 402h1v1h-1zM171 402h4v1h-4zM177 402h3v1h-3zM181 402h2v1h-2zM263 402h1v1h-1zM165 403h2v1h-2zM169 403h1v1h-1zM175 403h1v1h-1zM177 403h1v1h-1zM179 403h2v1h-2zM182 403h1v1h-1zM188 403h1v1h-1zM157 404h2v1h-2zM162 404h1v1h-1zM165 404h3v1h-3zM169 404h3v1h-3zM173 404h1v1h-1zM175 404h1v1h-1zM177 404h1v1h-1zM180 404h1v1h-1zM193 404h1v1h-1zM263 404h1v1h-1z" fill="#6a4f9c"/>
<rect x="106.4" y="300.5" width="166.60" height="151.60" fill="none" stroke="#4a4a4a" stroke-width="1.2"/>
<line x1="172.40" y1="300.50" x2="172.40" y2="452.10" stroke="#3c3c3c" stroke-width="1.1" />
<line x1="106.40" y1="405.20" x2="273.00" y2="405.20" stroke="#3c3c3c" stroke-width="1.1" />
<line x1="108.71" y1="452.10" x2="108.71" y2="456.10" stroke="#444" stroke-width="1" />
<line x1="102.90" y1="449.88" x2="106.40" y2="449.88" stroke="#444" stroke-width="1" />
<line x1="113.92" y1="452.10" x2="113.92" y2="456.10" stroke="#444" stroke-width="1" />
<line x1="102.90" y1="445.15" x2="106.40" y2="445.15" stroke="#444" stroke-width="1" />
<line x1="117.96" y1="452.10" x2="117.96" y2="456.10" stroke="#444" stroke-width="1" />
<line x1="102.90" y1="441.49" x2="106.40" y2="441.49" stroke="#444" stroke-width="1" />
<line x1="121.26" y1="452.10" x2="121.26" y2="456.10" stroke="#444" stroke-width="1" />
<line x1="102.90" y1="438.49" x2="106.40" y2="438.49" stroke="#444" stroke-width="1" />
<line x1="124.05" y1="452.10" x2="124.05" y2="456.10" stroke="#444" stroke-width="1" />
<line x1="102.90" y1="435.96" x2="106.40" y2="435.96" stroke="#444" stroke-width="1" />
<line x1="126.46" y1="452.10" x2="126.46" y2="456.10" stroke="#444" stroke-width="1" />
<line x1="102.90" y1="433.77" x2="106.40" y2="433.77" stroke="#444" stroke-width="1" />
<line x1="128.59" y1="452.10" x2="128.59" y2="456.10" stroke="#444" stroke-width="1" />
<line x1="102.90" y1="431.83" x2="106.40" y2="431.83" stroke="#444" stroke-width="1" />
<line x1="130.50" y1="452.10" x2="130.50" y2="459.10" stroke="#444" stroke-width="1" />
<line x1="100.40" y1="430.10" x2="106.40" y2="430.10" stroke="#444" stroke-width="1" />
<line x1="143.04" y1="452.10" x2="143.04" y2="456.10" stroke="#444" stroke-width="1" />
<line x1="102.90" y1="418.71" x2="106.40" y2="418.71" stroke="#444" stroke-width="1" />
<line x1="150.38" y1="452.10" x2="150.38" y2="456.10" stroke="#444" stroke-width="1" />
<line x1="102.90" y1="412.05" x2="106.40" y2="412.05" stroke="#444" stroke-width="1" />
<line x1="155.59" y1="452.10" x2="155.59" y2="456.10" stroke="#444" stroke-width="1" />
<line x1="102.90" y1="407.32" x2="106.40" y2="407.32" stroke="#444" stroke-width="1" />
<line x1="159.63" y1="452.10" x2="159.63" y2="456.10" stroke="#444" stroke-width="1" />
<line x1="102.90" y1="403.66" x2="106.40" y2="403.66" stroke="#444" stroke-width="1" />
<line x1="162.93" y1="452.10" x2="162.93" y2="456.10" stroke="#444" stroke-width="1" />
<line x1="102.90" y1="400.66" x2="106.40" y2="400.66" stroke="#444" stroke-width="1" />
<line x1="165.72" y1="452.10" x2="165.72" y2="456.10" stroke="#444" stroke-width="1" />
<line x1="102.90" y1="398.13" x2="106.40" y2="398.13" stroke="#444" stroke-width="1" />
<line x1="168.13" y1="452.10" x2="168.13" y2="456.10" stroke="#444" stroke-width="1" />
<line x1="102.90" y1="395.94" x2="106.40" y2="395.94" stroke="#444" stroke-width="1" />
<line x1="170.26" y1="452.10" x2="170.26" y2="456.10" stroke="#444" stroke-width="1" />
<line x1="102.90" y1="394.00" x2="106.40" y2="394.00" stroke="#444" stroke-width="1" />
<line x1="172.17" y1="452.10" x2="172.17" y2="459.10" stroke="#444" stroke-width="1" />
<line x1="100.40" y1="392.27" x2="106.40" y2="392.27" stroke="#444" stroke-width="1" />
<line x1="184.71" y1="452.10" x2="184.71" y2="456.10" stroke="#444" stroke-width="1" />
<line x1="102.90" y1="380.88" x2="106.40" y2="380.88" stroke="#444" stroke-width="1" />
<line x1="192.05" y1="452.10" x2="192.05" y2="456.10" stroke="#444" stroke-width="1" />
<line x1="102.90" y1="374.22" x2="106.40" y2="374.22" stroke="#444" stroke-width="1" />
<line x1="197.26" y1="452.10" x2="197.26" y2="456.10" stroke="#444" stroke-width="1" />
<line x1="102.90" y1="369.49" x2="106.40" y2="369.49" stroke="#444" stroke-width="1" />
<line x1="201.30" y1="452.10" x2="201.30" y2="456.10" stroke="#444" stroke-width="1" />
<line x1="102.90" y1="365.83" x2="106.40" y2="365.83" stroke="#444" stroke-width="1" />
<line x1="204.60" y1="452.10" x2="204.60" y2="456.10" stroke="#444" stroke-width="1" />
<line x1="102.90" y1="362.83" x2="106.40" y2="362.83" stroke="#444" stroke-width="1" />
<line x1="207.39" y1="452.10" x2="207.39" y2="456.10" stroke="#444" stroke-width="1" />
<line x1="102.90" y1="360.30" x2="106.40" y2="360.30" stroke="#444" stroke-width="1" />
<line x1="209.80" y1="452.10" x2="209.80" y2="456.10" stroke="#444" stroke-width="1" />
<line x1="102.90" y1="358.11" x2="106.40" y2="358.11" stroke="#444" stroke-width="1" />
<line x1="211.93" y1="452.10" x2="211.93" y2="456.10" stroke="#444" stroke-width="1" />
<line x1="102.90" y1="356.17" x2="106.40" y2="356.17" stroke="#444" stroke-width="1" />
<line x1="213.84" y1="452.10" x2="213.84" y2="459.10" stroke="#444" stroke-width="1" />
<line x1="100.40" y1="354.44" x2="106.40" y2="354.44" stroke="#444" stroke-width="1" />
<line x1="226.38" y1="452.10" x2="226.38" y2="456.10" stroke="#444" stroke-width="1" />
<line x1="102.90" y1="343.05" x2="106.40" y2="343.05" stroke="#444" stroke-width="1" />
<line x1="233.72" y1="452.10" x2="233.72" y2="456.10" stroke="#444" stroke-width="1" />
<line x1="102.90" y1="336.39" x2="106.40" y2="336.39" stroke="#444" stroke-width="1" />
<line x1="238.93" y1="452.10" x2="238.93" y2="456.10" stroke="#444" stroke-width="1" />
<line x1="102.90" y1="331.66" x2="106.40" y2="331.66" stroke="#444" stroke-width="1" />
<line x1="242.97" y1="452.10" x2="242.97" y2="456.10" stroke="#444" stroke-width="1" />
<line x1="102.90" y1="328.00" x2="106.40" y2="328.00" stroke="#444" stroke-width="1" />
<line x1="246.27" y1="452.10" x2="246.27" y2="456.10" stroke="#444" stroke-width="1" />
<line x1="102.90" y1="325.00" x2="106.40" y2="325.00" stroke="#444" stroke-width="1" />
<line x1="249.06" y1="452.10" x2="249.06" y2="456.10" stroke="#444" stroke-width="1" />
<line x1="102.90" y1="322.47" x2="106.40" y2="322.47" stroke="#444" stroke-width="1" />
<line x1="251.47" y1="452.10" x2="251.47" y2="456.10" stroke="#444" stroke-width="1" />
<line x1="102.90" y1="320.28" x2="106.40" y2="320.28" stroke="#444" stroke-width="1" />
<line x1="253.60" y1="452.10" x2="253.60" y2="456.10" stroke="#444" stroke-width="1" />
<line x1="102.90" y1="318.34" x2="106.40" y2="318.34" stroke="#444" stroke-width="1" />
<line x1="255.51" y1="452.10" x2="255.51" y2="459.10" stroke="#444" stroke-width="1" />
<line x1="100.40" y1="316.61" x2="106.40" y2="316.61" stroke="#444" stroke-width="1" />
<line x1="268.05" y1="452.10" x2="268.05" y2="456.10" stroke="#444" stroke-width="1" />
<line x1="102.90" y1="305.22" x2="106.40" y2="305.22" stroke="#444" stroke-width="1" />
<text x="132.10" y="473.20" font-size="10.8" font-weight="bold" fill="#000" text-anchor="end" >10</text>
<text x="132.60" y="467.30" font-size="9.6" font-weight="bold" fill="#000" text-anchor="start" >2</text>
<text transform="translate(98.60,439.30) rotate(-90)" x="0" y="0" font-size="10.8" font-weight="bold" fill="#000" text-anchor="start" >10</text>
<text transform="translate(92.00,426.50) rotate(-90)" x="0" y="0" font-size="10" font-weight="bold" fill="#000" text-anchor="start" >2</text>
<text x="173.77" y="473.20" font-size="10.8" font-weight="bold" fill="#000" text-anchor="end" >10</text>
<text x="174.27" y="467.30" font-size="9.6" font-weight="bold" fill="#000" text-anchor="start" >3</text>
<text transform="translate(98.60,401.47) rotate(-90)" x="0" y="0" font-size="10.8" font-weight="bold" fill="#000" text-anchor="start" >10</text>
<text transform="translate(92.00,388.67) rotate(-90)" x="0" y="0" font-size="10" font-weight="bold" fill="#000" text-anchor="start" >3</text>
<text x="215.44" y="473.20" font-size="10.8" font-weight="bold" fill="#000" text-anchor="end" >10</text>
<text x="215.94" y="467.30" font-size="9.6" font-weight="bold" fill="#000" text-anchor="start" >4</text>
<text transform="translate(98.60,363.64) rotate(-90)" x="0" y="0" font-size="10.8" font-weight="bold" fill="#000" text-anchor="start" >10</text>
<text transform="translate(92.00,350.84) rotate(-90)" x="0" y="0" font-size="10" font-weight="bold" fill="#000" text-anchor="start" >4</text>
<text x="257.11" y="473.20" font-size="10.8" font-weight="bold" fill="#000" text-anchor="end" >10</text>
<text x="257.61" y="467.30" font-size="9.6" font-weight="bold" fill="#000" text-anchor="start" >5</text>
<text transform="translate(98.60,325.81) rotate(-90)" x="0" y="0" font-size="10.8" font-weight="bold" fill="#000" text-anchor="start" >10</text>
<text transform="translate(92.00,313.01) rotate(-90)" x="0" y="0" font-size="10" font-weight="bold" fill="#000" text-anchor="start" >5</text>
<text x="171.80" y="296.50" font-size="22" font-weight="bold" fill="#000" text-anchor="start" >AA</text>
<text x="111.80" y="324.30" font-size="9.2" font-weight="normal" fill="#505050" text-anchor="start" >Q1</text>
<text x="242.80" y="320.40" font-size="9.2" font-weight="normal" fill="#505050" text-anchor="start" >Q2</text>
<text x="111.80" y="444.90" font-size="9.2" font-weight="normal" fill="#505050" text-anchor="start" >Q3</text>
<text x="249.40" y="445.40" font-size="9.2" font-weight="normal" fill="#505050" text-anchor="start" >Q4</text>
<text x="118.40" y="362.80" font-size="14" font-weight="bold" fill="#000" text-anchor="start" textLength="48.20" lengthAdjust="spacingAndGlyphs">0.4±0.1</text>
<text x="220.80" y="362.10" font-size="14" font-weight="bold" fill="#000" text-anchor="start" textLength="49.90" lengthAdjust="spacingAndGlyphs">0.9±0.2</text>
<text x="110.30" y="432.10" font-size="14" font-weight="bold" fill="#000" text-anchor="start" textLength="58.10" lengthAdjust="spacingAndGlyphs">76.0±8.9</text>
<text x="212.30" y="430.80" font-size="14" font-weight="bold" fill="#000" text-anchor="start" textLength="56.80" lengthAdjust="spacingAndGlyphs">22.8±8.7</text>
<path d="M367 407h2v1h-2zM370 407h4v1h-4zM375 407h29v1h-29zM405 407h1v1h-1zM407 407h1v1h-1zM419 407h1v1h-1zM423 407h1v1h-1zM457 407h1v1h-1zM364 408h40v1h-40zM405 408h2v1h-2zM409 408h2v1h-2zM364 409h7v1h-7zM372 409h1v1h-1zM374 409h31v1h-31zM410 409h1v1h-1zM423 409h1v1h-1zM353 410h1v1h-1zM362 410h2v1h-2zM368 410h38v1h-38zM418 410h1v1h-1zM460 410h1v1h-1zM362 411h1v1h-1zM365 411h2v1h-2zM369 411h2v1h-2zM373 411h29v1h-29zM404 411h2v1h-2zM407 411h1v1h-1zM409 411h1v1h-1zM344 412h1v1h-1zM347 412h1v1h-1zM365 412h4v1h-4zM370 412h37v1h-37zM408 412h1v1h-1zM414 412h1v1h-1zM427 412h1v1h-1zM474 412h1v1h-1zM358 413h1v1h-1zM365 413h2v1h-2zM369 413h3v1h-3zM373 413h32v1h-32zM443 413h1v1h-1zM351 414h1v1h-1zM365 414h1v1h-1zM368 414h37v1h-37zM407 414h1v1h-1zM409 414h1v1h-1zM412 414h1v1h-1zM418 414h1v1h-1zM429 414h1v1h-1zM341 415h1v1h-1zM366 415h1v1h-1zM369 415h2v1h-2zM372 415h37v1h-37zM412 415h1v1h-1zM363 416h1v1h-1zM365 416h35v1h-35zM401 416h8v1h-8zM411 416h1v1h-1zM342 417h1v1h-1zM362 417h1v1h-1zM364 417h1v1h-1zM366 417h4v1h-4zM371 417h37v1h-37zM412 417h2v1h-2zM349 418h1v1h-1zM360 418h1v1h-1zM364 418h1v1h-1zM366 418h40v1h-40zM409 418h1v1h-1zM365 419h2v1h-2zM368 419h37v1h-37zM406 419h2v1h-2zM410 419h1v1h-1zM415 419h1v1h-1zM449 419h1v1h-1zM352 420h1v1h-1zM364 420h2v1h-2zM367 420h38v1h-38zM406 420h1v1h-1zM408 420h1v1h-1zM411 420h1v1h-1zM439 420h1v1h-1zM360 421h1v1h-1zM364 421h1v1h-1zM367 421h2v1h-2zM370 421h2v1h-2zM373 421h32v1h-32zM406 421h1v1h-1zM362 422h1v1h-1zM366 422h42v1h-42zM409 422h1v1h-1zM411 422h1v1h-1zM417 422h1v1h-1zM360 423h1v1h-1zM362 423h2v1h-2zM366 423h37v1h-37zM404 423h5v1h-5zM412 423h1v1h-1zM417 423h1v1h-1zM421 423h1v1h-1zM436 423h1v1h-1zM360 424h1v1h-1zM362 424h2v1h-2zM368 424h39v1h-39zM408 424h2v1h-2zM350 425h1v1h-1zM366 425h42v1h-42zM409 425h2v1h-2zM413 425h1v1h-1zM366 426h41v1h-41zM408 426h1v1h-1zM437 426h1v1h-1zM367 427h39v1h-39zM411 427h1v1h-1zM419 427h1v1h-1zM360 428h2v1h-2zM367 428h1v1h-1zM369 428h41v1h-41zM415 428h1v1h-1zM363 429h42v1h-42zM407 429h5v1h-5zM361 430h1v1h-1zM363 430h1v1h-1zM366 430h1v1h-1zM368 430h38v1h-38zM343 431h1v1h-1zM355 431h1v1h-1zM360 431h3v1h-3zM364 431h1v1h-1zM366 431h2v1h-2zM369 431h39v1h-39zM412 431h1v1h-1zM418 431h1v1h-1zM354 432h1v1h-1zM365 432h2v1h-2zM368 432h39v1h-39zM408 432h1v1h-1zM411 432h1v1h-1zM413 432h1v1h-1zM361 433h6v1h-6zM368 433h36v1h-36zM405 433h2v1h-2zM414 433h2v1h-2zM344 434h1v1h-1zM353 434h1v1h-1zM361 434h1v1h-1zM364 434h3v1h-3zM368 434h41v1h-41zM410 434h2v1h-2zM414 434h1v1h-1zM362 435h1v1h-1zM365 435h3v1h-3zM369 435h39v1h-39zM418 435h1v1h-1zM361 436h2v1h-2zM364 436h2v1h-2zM367 436h38v1h-38zM406 436h6v1h-6zM422 436h1v1h-1zM362 437h1v1h-1zM366 437h43v1h-43zM421 437h1v1h-1zM426 437h1v1h-1zM342 438h1v1h-1zM359 438h1v1h-1zM361 438h1v1h-1zM365 438h2v1h-2zM368 438h39v1h-39zM409 438h1v1h-1zM411 438h2v1h-2zM359 439h1v1h-1zM365 439h40v1h-40zM406 439h3v1h-3zM412 439h1v1h-1zM450 439h1v1h-1zM356 440h1v1h-1zM359 440h1v1h-1zM362 440h3v1h-3zM366 440h39v1h-39zM406 440h2v1h-2zM409 440h2v1h-2zM427 440h1v1h-1zM360 441h1v1h-1zM365 441h42v1h-42zM412 441h2v1h-2zM415 441h2v1h-2zM430 441h1v1h-1zM353 442h1v1h-1zM357 442h1v1h-1zM359 442h1v1h-1zM362 442h1v1h-1zM364 442h1v1h-1zM367 442h41v1h-41zM364 443h41v1h-41zM406 443h1v1h-1zM363 444h1v1h-1zM365 444h1v1h-1zM367 444h38v1h-38zM406 444h1v1h-1zM408 444h1v1h-1zM410 444h1v1h-1zM416 444h1v1h-1zM423 444h1v1h-1zM362 445h2v1h-2zM366 445h2v1h-2zM369 445h40v1h-40zM410 445h1v1h-1zM412 445h1v1h-1zM344 446h2v1h-2zM363 446h1v1h-1zM365 446h40v1h-40zM407 446h3v1h-3zM412 446h2v1h-2zM361 447h1v1h-1zM365 447h1v1h-1zM367 447h42v1h-42zM416 447h1v1h-1zM418 447h1v1h-1zM359 448h1v1h-1zM364 448h1v1h-1zM367 448h41v1h-41zM415 448h1v1h-1zM446 448h1v1h-1zM348 449h1v1h-1zM365 449h2v1h-2zM368 449h40v1h-40zM410 449h1v1h-1zM412 449h1v1h-1zM364 450h1v1h-1zM366 450h38v1h-38zM405 450h3v1h-3zM409 450h2v1h-2zM412 450h1v1h-1zM352 451h1v1h-1zM356 451h1v1h-1zM360 451h1v1h-1zM365 451h2v1h-2zM368 451h38v1h-38zM407 451h1v1h-1zM426 451h1v1h-1zM358 452h1v1h-1zM362 452h1v1h-1zM365 452h2v1h-2zM368 452h38v1h-38zM407 452h2v1h-2zM410 452h1v1h-1zM429 452h1v1h-1z" fill="#e2131a"/>
<path d="M421 308h1v1h-1zM351 311h1v1h-1zM475 311h1v1h-1zM350 315h1v1h-1zM457 317h1v1h-1zM475 318h1v1h-1zM397 319h1v1h-1zM407 319h1v1h-1zM429 319h1v1h-1zM414 320h1v1h-1zM377 321h1v1h-1zM396 321h1v1h-1zM454 322h1v1h-1zM405 323h1v1h-1zM367 324h1v1h-1zM396 324h2v1h-2zM400 324h2v1h-2zM405 324h1v1h-1zM399 325h1v1h-1zM405 325h1v1h-1zM408 325h2v1h-2zM415 325h2v1h-2zM388 326h3v1h-3zM393 326h2v1h-2zM396 326h3v1h-3zM400 326h1v1h-1zM405 326h1v1h-1zM407 326h1v1h-1zM409 326h1v1h-1zM411 326h1v1h-1zM414 326h1v1h-1zM385 327h1v1h-1zM387 327h1v1h-1zM392 327h1v1h-1zM394 327h1v1h-1zM397 327h1v1h-1zM400 327h2v1h-2zM403 327h1v1h-1zM405 327h2v1h-2zM408 327h2v1h-2zM413 327h2v1h-2zM416 327h2v1h-2zM387 328h1v1h-1zM392 328h5v1h-5zM398 328h1v1h-1zM400 328h4v1h-4zM410 328h2v1h-2zM414 328h1v1h-1zM416 328h1v1h-1zM318 329h1v1h-1zM383 329h1v1h-1zM387 329h1v1h-1zM391 329h9v1h-9zM401 329h3v1h-3zM405 329h3v1h-3zM411 329h1v1h-1zM415 329h1v1h-1zM476 329h1v1h-1zM388 330h1v1h-1zM390 330h5v1h-5zM396 330h1v1h-1zM398 330h5v1h-5zM404 330h2v1h-2zM407 330h1v1h-1zM409 330h1v1h-1zM412 330h3v1h-3zM387 331h3v1h-3zM392 331h9v1h-9zM404 331h4v1h-4zM409 331h2v1h-2zM412 331h2v1h-2zM422 331h1v1h-1zM386 332h1v1h-1zM388 332h1v1h-1zM390 332h4v1h-4zM396 332h4v1h-4zM403 332h6v1h-6zM411 332h1v1h-1zM383 333h1v1h-1zM386 333h1v1h-1zM388 333h1v1h-1zM391 333h6v1h-6zM399 333h3v1h-3zM404 333h5v1h-5zM410 333h2v1h-2zM413 333h1v1h-1zM415 333h1v1h-1zM374 334h1v1h-1zM388 334h1v1h-1zM390 334h1v1h-1zM393 334h3v1h-3zM397 334h4v1h-4zM402 334h4v1h-4zM407 334h1v1h-1zM411 334h3v1h-3zM418 334h1v1h-1zM388 335h5v1h-5zM394 335h1v1h-1zM397 335h5v1h-5zM403 335h1v1h-1zM405 335h8v1h-8zM385 336h2v1h-2zM388 336h1v1h-1zM390 336h1v1h-1zM392 336h7v1h-7zM400 336h4v1h-4zM405 336h2v1h-2zM408 336h1v1h-1zM415 336h1v1h-1zM389 337h1v1h-1zM391 337h3v1h-3zM397 337h2v1h-2zM400 337h2v1h-2zM403 337h2v1h-2zM406 337h3v1h-3zM415 337h1v1h-1zM373 338h1v1h-1zM384 338h3v1h-3zM388 338h5v1h-5zM394 338h1v1h-1zM396 338h2v1h-2zM400 338h1v1h-1zM402 338h1v1h-1zM404 338h2v1h-2zM407 338h1v1h-1zM435 338h1v1h-1zM352 339h1v1h-1zM385 339h2v1h-2zM390 339h3v1h-3zM394 339h4v1h-4zM399 339h1v1h-1zM401 339h3v1h-3zM406 339h1v1h-1zM409 339h1v1h-1zM430 339h1v1h-1zM384 340h2v1h-2zM389 340h2v1h-2zM392 340h1v1h-1zM395 340h4v1h-4zM400 340h4v1h-4zM406 340h1v1h-1zM409 340h2v1h-2zM417 340h1v1h-1zM384 341h1v1h-1zM387 341h12v1h-12zM400 341h10v1h-10zM387 342h1v1h-1zM389 342h1v1h-1zM392 342h3v1h-3zM396 342h9v1h-9zM407 342h1v1h-1zM322 343h1v1h-1zM386 343h1v1h-1zM389 343h3v1h-3zM394 343h6v1h-6zM401 343h3v1h-3zM405 343h1v1h-1zM408 343h1v1h-1zM345 344h1v1h-1zM386 344h4v1h-4zM391 344h3v1h-3zM395 344h1v1h-1zM397 344h6v1h-6zM404 344h1v1h-1zM411 344h1v1h-1zM383 345h1v1h-1zM385 345h1v1h-1zM387 345h1v1h-1zM390 345h1v1h-1zM392 345h3v1h-3zM396 345h2v1h-2zM399 345h1v1h-1zM401 345h5v1h-5zM407 345h1v1h-1zM387 346h1v1h-1zM392 346h7v1h-7zM400 346h4v1h-4zM473 346h1v1h-1zM381 347h1v1h-1zM386 347h2v1h-2zM389 347h1v1h-1zM391 347h4v1h-4zM399 347h2v1h-2zM402 347h2v1h-2zM408 347h1v1h-1zM382 348h1v1h-1zM387 348h5v1h-5zM394 348h2v1h-2zM397 348h2v1h-2zM400 348h3v1h-3zM404 348h2v1h-2zM421 348h1v1h-1zM384 349h1v1h-1zM387 349h1v1h-1zM389 349h6v1h-6zM396 349h2v1h-2zM400 349h1v1h-1zM403 349h1v1h-1zM407 349h2v1h-2zM385 350h2v1h-2zM388 350h13v1h-13zM403 350h3v1h-3zM385 351h7v1h-7zM394 351h2v1h-2zM397 351h7v1h-7zM384 352h2v1h-2zM389 352h2v1h-2zM392 352h13v1h-13zM406 352h1v1h-1zM383 353h1v1h-1zM387 353h6v1h-6zM394 353h3v1h-3zM398 353h6v1h-6zM406 353h2v1h-2zM416 353h1v1h-1zM385 354h7v1h-7zM393 354h8v1h-8zM403 354h2v1h-2zM387 355h11v1h-11zM399 355h4v1h-4zM407 355h1v1h-1zM384 356h1v1h-1zM387 356h1v1h-1zM390 356h2v1h-2zM395 356h5v1h-5zM401 356h2v1h-2zM404 356h1v1h-1zM382 357h1v1h-1zM385 357h3v1h-3zM389 357h3v1h-3zM393 357h5v1h-5zM399 357h1v1h-1zM401 357h2v1h-2zM360 358h1v1h-1zM385 358h1v1h-1zM387 358h1v1h-1zM389 358h3v1h-3zM393 358h1v1h-1zM396 358h2v1h-2zM401 358h3v1h-3zM426 358h1v1h-1zM368 359h1v1h-1zM385 359h1v1h-1zM387 359h1v1h-1zM389 359h1v1h-1zM391 359h6v1h-6zM398 359h4v1h-4zM406 359h2v1h-2zM384 360h1v1h-1zM386 360h1v1h-1zM388 360h3v1h-3zM392 360h3v1h-3zM397 360h3v1h-3zM401 360h4v1h-4zM408 360h1v1h-1zM383 361h2v1h-2zM386 361h1v1h-1zM389 361h1v1h-1zM391 361h5v1h-5zM397 361h3v1h-3zM401 361h4v1h-4zM338 362h1v1h-1zM367 362h1v1h-1zM389 362h4v1h-4zM394 362h3v1h-3zM398 362h3v1h-3zM402 362h1v1h-1zM405 362h1v1h-1zM383 363h1v1h-1zM385 363h2v1h-2zM388 363h3v1h-3zM392 363h1v1h-1zM394 363h1v1h-1zM396 363h2v1h-2zM399 363h5v1h-5zM384 364h1v1h-1zM386 364h11v1h-11zM398 364h2v1h-2zM401 364h5v1h-5zM384 365h1v1h-1zM387 365h10v1h-10zM398 365h2v1h-2zM401 365h2v1h-2zM405 365h1v1h-1zM458 365h1v1h-1zM383 366h1v1h-1zM385 366h2v1h-2zM388 366h1v1h-1zM390 366h7v1h-7zM398 366h6v1h-6zM406 366h1v1h-1zM383 367h1v1h-1zM387 367h1v1h-1zM389 367h2v1h-2zM392 367h3v1h-3zM396 367h4v1h-4zM401 367h2v1h-2zM404 367h1v1h-1zM462 367h1v1h-1zM384 368h8v1h-8zM393 368h4v1h-4zM398 368h1v1h-1zM400 368h2v1h-2zM383 369h11v1h-11zM395 369h6v1h-6zM402 369h1v1h-1zM406 369h1v1h-1zM382 370h1v1h-1zM384 370h5v1h-5zM391 370h1v1h-1zM394 370h8v1h-8zM403 370h4v1h-4zM384 371h1v1h-1zM386 371h2v1h-2zM390 371h11v1h-11zM403 371h1v1h-1zM381 372h1v1h-1zM383 372h1v1h-1zM385 372h3v1h-3zM389 372h1v1h-1zM391 372h1v1h-1zM394 372h2v1h-2zM397 372h3v1h-3zM404 372h1v1h-1zM383 373h2v1h-2zM387 373h3v1h-3zM391 373h3v1h-3zM395 373h6v1h-6zM402 373h1v1h-1zM404 373h1v1h-1zM406 373h2v1h-2zM382 374h2v1h-2zM385 374h4v1h-4zM391 374h2v1h-2zM394 374h1v1h-1zM397 374h5v1h-5zM407 374h1v1h-1zM380 375h1v1h-1zM382 375h1v1h-1zM384 375h2v1h-2zM387 375h2v1h-2zM391 375h4v1h-4zM396 375h9v1h-9zM379 376h1v1h-1zM383 376h1v1h-1zM385 376h1v1h-1zM388 376h3v1h-3zM393 376h1v1h-1zM395 376h2v1h-2zM398 376h5v1h-5zM406 376h1v1h-1zM410 376h1v1h-1zM417 376h1v1h-1zM376 377h1v1h-1zM383 377h1v1h-1zM387 377h1v1h-1zM389 377h1v1h-1zM391 377h1v1h-1zM393 377h2v1h-2zM396 377h3v1h-3zM400 377h1v1h-1zM324 378h1v1h-1zM379 378h1v1h-1zM382 378h2v1h-2zM386 378h5v1h-5zM392 378h8v1h-8zM403 378h1v1h-1zM380 379h1v1h-1zM384 379h3v1h-3zM389 379h7v1h-7zM397 379h1v1h-1zM401 379h1v1h-1zM433 379h1v1h-1zM376 380h2v1h-2zM383 380h4v1h-4zM388 380h1v1h-1zM390 380h5v1h-5zM396 380h2v1h-2zM400 380h2v1h-2zM403 380h1v1h-1zM405 380h1v1h-1zM407 380h1v1h-1zM382 381h1v1h-1zM384 381h7v1h-7zM392 381h3v1h-3zM396 381h3v1h-3zM400 381h1v1h-1zM402 381h1v1h-1zM404 381h1v1h-1zM379 382h1v1h-1zM381 382h1v1h-1zM386 382h4v1h-4zM391 382h4v1h-4zM396 382h6v1h-6zM361 383h1v1h-1zM382 383h2v1h-2zM385 383h14v1h-14zM400 383h3v1h-3zM405 383h1v1h-1zM384 384h1v1h-1zM389 384h3v1h-3zM393 384h2v1h-2zM396 384h3v1h-3zM402 384h1v1h-1zM416 384h1v1h-1zM444 384h1v1h-1zM382 385h1v1h-1zM384 385h1v1h-1zM387 385h1v1h-1zM392 385h6v1h-6zM399 385h2v1h-2zM402 385h1v1h-1zM422 385h1v1h-1zM363 386h1v1h-1zM383 386h2v1h-2zM386 386h1v1h-1zM389 386h1v1h-1zM391 386h4v1h-4zM396 386h4v1h-4zM402 386h2v1h-2zM405 386h1v1h-1zM454 386h1v1h-1zM376 387h1v1h-1zM383 387h4v1h-4zM388 387h1v1h-1zM390 387h1v1h-1zM392 387h3v1h-3zM397 387h4v1h-4zM402 387h1v1h-1zM412 387h1v1h-1zM445 387h1v1h-1zM361 388h1v1h-1zM384 388h1v1h-1zM386 388h1v1h-1zM388 388h6v1h-6zM395 388h2v1h-2zM399 388h3v1h-3zM404 388h1v1h-1zM406 388h2v1h-2zM423 388h1v1h-1zM379 389h1v1h-1zM381 389h2v1h-2zM387 389h5v1h-5zM393 389h8v1h-8zM406 389h1v1h-1zM348 390h1v1h-1zM383 390h2v1h-2zM386 390h1v1h-1zM388 390h12v1h-12zM401 390h1v1h-1zM349 391h1v1h-1zM381 391h2v1h-2zM384 391h1v1h-1zM387 391h2v1h-2zM390 391h9v1h-9zM400 391h3v1h-3zM405 391h1v1h-1zM381 392h2v1h-2zM384 392h2v1h-2zM387 392h3v1h-3zM391 392h2v1h-2zM394 392h5v1h-5zM400 392h3v1h-3zM404 392h1v1h-1zM444 392h1v1h-1zM460 392h1v1h-1zM365 393h1v1h-1zM367 393h1v1h-1zM383 393h5v1h-5zM391 393h3v1h-3zM395 393h6v1h-6zM402 393h2v1h-2zM377 394h1v1h-1zM381 394h1v1h-1zM386 394h4v1h-4zM391 394h3v1h-3zM395 394h2v1h-2zM398 394h1v1h-1zM400 394h3v1h-3zM404 394h1v1h-1zM406 394h1v1h-1zM374 395h1v1h-1zM377 395h1v1h-1zM379 395h1v1h-1zM384 395h1v1h-1zM386 395h12v1h-12zM400 395h4v1h-4zM405 395h1v1h-1zM412 395h1v1h-1zM380 396h2v1h-2zM385 396h1v1h-1zM388 396h3v1h-3zM392 396h3v1h-3zM397 396h1v1h-1zM401 396h2v1h-2zM382 397h3v1h-3zM386 397h1v1h-1zM391 397h6v1h-6zM398 397h4v1h-4zM386 398h1v1h-1zM388 398h5v1h-5zM394 398h5v1h-5zM401 398h2v1h-2zM404 398h2v1h-2zM381 399h1v1h-1zM384 399h1v1h-1zM386 399h3v1h-3zM390 399h11v1h-11zM404 399h1v1h-1zM412 399h1v1h-1zM365 400h1v1h-1zM383 400h3v1h-3zM387 400h13v1h-13zM402 400h3v1h-3zM378 401h1v1h-1zM382 401h1v1h-1zM384 401h9v1h-9zM394 401h2v1h-2zM397 401h1v1h-1zM399 401h1v1h-1zM401 401h5v1h-5zM378 402h1v1h-1zM381 402h1v1h-1zM383 402h1v1h-1zM385 402h3v1h-3zM390 402h2v1h-2zM393 402h1v1h-1zM396 402h3v1h-3zM400 402h2v1h-2zM404 402h1v1h-1zM417 402h1v1h-1zM419 402h1v1h-1zM480 402h1v1h-1zM377 403h1v1h-1zM380 403h3v1h-3zM386 403h8v1h-8zM396 403h5v1h-5zM402 403h2v1h-2zM405 403h1v1h-1zM407 403h1v1h-1zM371 404h1v1h-1zM383 404h3v1h-3zM387 404h1v1h-1zM390 404h1v1h-1zM392 404h3v1h-3zM397 404h5v1h-5zM405 404h1v1h-1zM362 405h1v1h-1zM382 405h2v1h-2zM386 405h3v1h-3zM390 405h4v1h-4zM395 405h2v1h-2zM398 405h1v1h-1zM400 405h2v1h-2zM403 405h1v1h-1zM375 406h1v1h-1zM377 406h1v1h-1zM380 406h1v1h-1zM385 406h2v1h-2zM388 406h14v1h-14z" fill="#52208a"/>
<rect x="317.3" y="302.5" width="166.60" height="151.60" fill="none" stroke="#4a4a4a" stroke-width="1.2"/>
<line x1="383.30" y1="302.50" x2="383.30" y2="454.10" stroke="#3c3c3c" stroke-width="1.1" />
<line x1="317.30" y1="407.20" x2="483.90" y2="407.20" stroke="#3c3c3c" stroke-width="1.1" />
<line x1="319.61" y1="454.10" x2="319.61" y2="458.10" stroke="#444" stroke-width="1" />
<line x1="313.80" y1="451.88" x2="317.30" y2="451.88" stroke="#444" stroke-width="1" />
<line x1="324.82" y1="454.10" x2="324.82" y2="458.10" stroke="#444" stroke-width="1" />
<line x1="313.80" y1="447.15" x2="317.30" y2="447.15" stroke="#444" stroke-width="1" />
<line x1="328.86" y1="454.10" x2="328.86" y2="458.10" stroke="#444" stroke-width="1" />
<line x1="313.80" y1="443.49" x2="317.30" y2="443.49" stroke="#444" stroke-width="1" />
<line x1="332.16" y1="454.10" x2="332.16" y2="458.10" stroke="#444" stroke-width="1" />
<line x1="313.80" y1="440.49" x2="317.30" y2="440.49" stroke="#444" stroke-width="1" />
<line x1="334.95" y1="454.10" x2="334.95" y2="458.10" stroke="#444" stroke-width="1" />
<line x1="313.80" y1="437.96" x2="317.30" y2="437.96" stroke="#444" stroke-width="1" />
<line x1="337.36" y1="454.10" x2="337.36" y2="458.10" stroke="#444" stroke-width="1" />
<line x1="313.80" y1="435.77" x2="317.30" y2="435.77" stroke="#444" stroke-width="1" />
<line x1="339.49" y1="454.10" x2="339.49" y2="458.10" stroke="#444" stroke-width="1" />
<line x1="313.80" y1="433.83" x2="317.30" y2="433.83" stroke="#444" stroke-width="1" />
<line x1="341.40" y1="454.10" x2="341.40" y2="461.10" stroke="#444" stroke-width="1" />
<line x1="311.30" y1="432.10" x2="317.30" y2="432.10" stroke="#444" stroke-width="1" />
<line x1="353.94" y1="454.10" x2="353.94" y2="458.10" stroke="#444" stroke-width="1" />
<line x1="313.80" y1="420.71" x2="317.30" y2="420.71" stroke="#444" stroke-width="1" />
<line x1="361.28" y1="454.10" x2="361.28" y2="458.10" stroke="#444" stroke-width="1" />
<line x1="313.80" y1="414.05" x2="317.30" y2="414.05" stroke="#444" stroke-width="1" />
<line x1="366.49" y1="454.10" x2="366.49" y2="458.10" stroke="#444" stroke-width="1" />
<line x1="313.80" y1="409.32" x2="317.30" y2="409.32" stroke="#444" stroke-width="1" />
<line x1="370.53" y1="454.10" x2="370.53" y2="458.10" stroke="#444" stroke-width="1" />
<line x1="313.80" y1="405.66" x2="317.30" y2="405.66" stroke="#444" stroke-width="1" />
<line x1="373.83" y1="454.10" x2="373.83" y2="458.10" stroke="#444" stroke-width="1" />
<line x1="313.80" y1="402.66" x2="317.30" y2="402.66" stroke="#444" stroke-width="1" />
<line x1="376.62" y1="454.10" x2="376.62" y2="458.10" stroke="#444" stroke-width="1" />
<line x1="313.80" y1="400.13" x2="317.30" y2="400.13" stroke="#444" stroke-width="1" />
<line x1="379.03" y1="454.10" x2="379.03" y2="458.10" stroke="#444" stroke-width="1" />
<line x1="313.80" y1="397.94" x2="317.30" y2="397.94" stroke="#444" stroke-width="1" />
<line x1="381.16" y1="454.10" x2="381.16" y2="458.10" stroke="#444" stroke-width="1" />
<line x1="313.80" y1="396.00" x2="317.30" y2="396.00" stroke="#444" stroke-width="1" />
<line x1="383.07" y1="454.10" x2="383.07" y2="461.10" stroke="#444" stroke-width="1" />
<line x1="311.30" y1="394.27" x2="317.30" y2="394.27" stroke="#444" stroke-width="1" />
<line x1="395.61" y1="454.10" x2="395.61" y2="458.10" stroke="#444" stroke-width="1" />
<line x1="313.80" y1="382.88" x2="317.30" y2="382.88" stroke="#444" stroke-width="1" />
<line x1="402.95" y1="454.10" x2="402.95" y2="458.10" stroke="#444" stroke-width="1" />
<line x1="313.80" y1="376.22" x2="317.30" y2="376.22" stroke="#444" stroke-width="1" />
<line x1="408.16" y1="454.10" x2="408.16" y2="458.10" stroke="#444" stroke-width="1" />
<line x1="313.80" y1="371.49" x2="317.30" y2="371.49" stroke="#444" stroke-width="1" />
<line x1="412.20" y1="454.10" x2="412.20" y2="458.10" stroke="#444" stroke-width="1" />
<line x1="313.80" y1="367.83" x2="317.30" y2="367.83" stroke="#444" stroke-width="1" />
<line x1="415.50" y1="454.10" x2="415.50" y2="458.10" stroke="#444" stroke-width="1" />
<line x1="313.80" y1="364.83" x2="317.30" y2="364.83" stroke="#444" stroke-width="1" />
<line x1="418.29" y1="454.10" x2="418.29" y2="458.10" stroke="#444" stroke-width="1" />
<line x1="313.80" y1="362.30" x2="317.30" y2="362.30" stroke="#444" stroke-width="1" />
<line x1="420.70" y1="454.10" x2="420.70" y2="458.10" stroke="#444" stroke-width="1" />
<line x1="313.80" y1="360.11" x2="317.30" y2="360.11" stroke="#444" stroke-width="1" />
<line x1="422.83" y1="454.10" x2="422.83" y2="458.10" stroke="#444" stroke-width="1" />
<line x1="313.80" y1="358.17" x2="317.30" y2="358.17" stroke="#444" stroke-width="1" />
<line x1="424.74" y1="454.10" x2="424.74" y2="461.10" stroke="#444" stroke-width="1" />
<line x1="311.30" y1="356.44" x2="317.30" y2="356.44" stroke="#444" stroke-width="1" />
<line x1="437.28" y1="454.10" x2="437.28" y2="458.10" stroke="#444" stroke-width="1" />
<line x1="313.80" y1="345.05" x2="317.30" y2="345.05" stroke="#444" stroke-width="1" />
<line x1="444.62" y1="454.10" x2="444.62" y2="458.10" stroke="#444" stroke-width="1" />
<line x1="313.80" y1="338.39" x2="317.30" y2="338.39" stroke="#444" stroke-width="1" />
<line x1="449.83" y1="454.10" x2="449.83" y2="458.10" stroke="#444" stroke-width="1" />
<line x1="313.80" y1="333.66" x2="317.30" y2="333.66" stroke="#444" stroke-width="1" />
<line x1="453.87" y1="454.10" x2="453.87" y2="458.10" stroke="#444" stroke-width="1" />
<line x1="313.80" y1="330.00" x2="317.30" y2="330.00" stroke="#444" stroke-width="1" />
<line x1="457.17" y1="454.10" x2="457.17" y2="458.10" stroke="#444" stroke-width="1" />
<line x1="313.80" y1="327.00" x2="317.30" y2="327.00" stroke="#444" stroke-width="1" />
<line x1="459.96" y1="454.10" x2="459.96" y2="458.10" stroke="#444" stroke-width="1" />
<line x1="313.80" y1="324.47" x2="317.30" y2="324.47" stroke="#444" stroke-width="1" />
<line x1="462.37" y1="454.10" x2="462.37" y2="458.10" stroke="#444" stroke-width="1" />
<line x1="313.80" y1="322.28" x2="317.30" y2="322.28" stroke="#444" stroke-width="1" />
<line x1="464.50" y1="454.10" x2="464.50" y2="458.10" stroke="#444" stroke-width="1" />
<line x1="313.80" y1="320.34" x2="317.30" y2="320.34" stroke="#444" stroke-width="1" />
<line x1="466.41" y1="454.10" x2="466.41" y2="461.10" stroke="#444" stroke-width="1" />
<line x1="311.30" y1="318.61" x2="317.30" y2="318.61" stroke="#444" stroke-width="1" />
<line x1="478.95" y1="454.10" x2="478.95" y2="458.10" stroke="#444" stroke-width="1" />
<line x1="313.80" y1="307.22" x2="317.30" y2="307.22" stroke="#444" stroke-width="1" />
<text x="343.00" y="475.20" font-size="10.8" font-weight="bold" fill="#000" text-anchor="end" >10</text>
<text x="343.50" y="469.30" font-size="9.6" font-weight="bold" fill="#000" text-anchor="start" >2</text>
<text transform="translate(309.50,441.30) rotate(-90)" x="0" y="0" font-size="10.8" font-weight="bold" fill="#000" text-anchor="start" >10</text>
<text transform="translate(302.90,428.50) rotate(-90)" x="0" y="0" font-size="10" font-weight="bold" fill="#000" text-anchor="start" >2</text>
<text x="384.67" y="475.20" font-size="10.8" font-weight="bold" fill="#000" text-anchor="end" >10</text>
<text x="385.17" y="469.30" font-size="9.6" font-weight="bold" fill="#000" text-anchor="start" >3</text>
<text transform="translate(309.50,403.47) rotate(-90)" x="0" y="0" font-size="10.8" font-weight="bold" fill="#000" text-anchor="start" >10</text>
<text transform="translate(302.90,390.67) rotate(-90)" x="0" y="0" font-size="10" font-weight="bold" fill="#000" text-anchor="start" >3</text>
<text x="426.34" y="475.20" font-size="10.8" font-weight="bold" fill="#000" text-anchor="end" >10</text>
<text x="426.84" y="469.30" font-size="9.6" font-weight="bold" fill="#000" text-anchor="start" >4</text>
<text transform="translate(309.50,365.64) rotate(-90)" x="0" y="0" font-size="10.8" font-weight="bold" fill="#000" text-anchor="start" >10</text>
<text transform="translate(302.90,352.84) rotate(-90)" x="0" y="0" font-size="10" font-weight="bold" fill="#000" text-anchor="start" >4</text>
<text x="468.01" y="475.20" font-size="10.8" font-weight="bold" fill="#000" text-anchor="end" >10</text>
<text x="468.51" y="469.30" font-size="9.6" font-weight="bold" fill="#000" text-anchor="start" >5</text>
<text transform="translate(309.50,327.81) rotate(-90)" x="0" y="0" font-size="10.8" font-weight="bold" fill="#000" text-anchor="start" >10</text>
<text transform="translate(302.90,315.01) rotate(-90)" x="0" y="0" font-size="10" font-weight="bold" fill="#000" text-anchor="start" >5</text>
<text x="382.70" y="296.50" font-size="22" font-weight="bold" fill="#000" text-anchor="start" >SS</text>
<text x="322.70" y="326.30" font-size="9.2" font-weight="normal" fill="#505050" text-anchor="start" >Q1</text>
<text x="453.70" y="322.40" font-size="9.2" font-weight="normal" fill="#505050" text-anchor="start" >Q2</text>
<text x="322.70" y="446.90" font-size="9.2" font-weight="normal" fill="#505050" text-anchor="start" >Q3</text>
<text x="460.30" y="447.40" font-size="9.2" font-weight="normal" fill="#505050" text-anchor="start" >Q4</text>
<text x="328.40" y="362.80" font-size="14" font-weight="bold" fill="#000" text-anchor="start" textLength="48.60" lengthAdjust="spacingAndGlyphs">0.7±0.1</text>
<text x="430.70" y="361.90" font-size="14" font-weight="bold" fill="#000" text-anchor="start" textLength="49.30" lengthAdjust="spacingAndGlyphs">9.3±2.3</text>
<text x="320.00" y="432.10" font-size="14" font-weight="bold" fill="#000" text-anchor="start" textLength="57.70" lengthAdjust="spacingAndGlyphs">39.8±3.4</text>
<text x="421.90" y="430.80" font-size="14" font-weight="bold" fill="#000" text-anchor="start" textLength="57.80" lengthAdjust="spacingAndGlyphs">50.2±4.9</text>
<line x1="124.40" y1="700.60" x2="452.20" y2="700.60" stroke="#e6e6e6" stroke-width="1" />
<line x1="124.40" y1="655.60" x2="452.20" y2="655.60" stroke="#e6e6e6" stroke-width="1" />
<line x1="124.40" y1="610.60" x2="452.20" y2="610.60" stroke="#e6e6e6" stroke-width="1" />
<line x1="124.40" y1="565.60" x2="452.20" y2="565.60" stroke="#e6e6e6" stroke-width="1" />
<line x1="179.00" y1="565.60" x2="179.00" y2="745.60" stroke="#e6e6e6" stroke-width="1" />
<line x1="233.60" y1="565.60" x2="233.60" y2="745.60" stroke="#e6e6e6" stroke-width="1" />
<line x1="288.20" y1="565.60" x2="288.20" y2="745.60" stroke="#e6e6e6" stroke-width="1" />
<line x1="342.80" y1="565.60" x2="342.80" y2="745.60" stroke="#e6e6e6" stroke-width="1" />
<line x1="397.40" y1="565.60" x2="397.40" y2="745.60" stroke="#e6e6e6" stroke-width="1" />
<line x1="452.00" y1="565.60" x2="452.00" y2="745.60" stroke="#e6e6e6" stroke-width="1" />
<rect x="128.90" y="655.60" width="22.30" height="90.00" fill="#bdbdbd" />
<line x1="140.05" y1="655.60" x2="140.05" y2="654.70" stroke="#000" stroke-width="1.3" />
<line x1="138.40" y1="655.20" x2="141.70" y2="655.20" stroke="#000" stroke-width="1.4" />
<rect x="151.20" y="594.40" width="22.20" height="151.20" fill="#000" />
<line x1="162.30" y1="594.40" x2="162.30" y2="572.35" stroke="#000" stroke-width="1.3" />
<line x1="160.60" y1="572.85" x2="164.00" y2="572.85" stroke="#000" stroke-width="1.4" />
<text x="151.70" y="764.70" font-size="16.4" font-weight="bold" fill="#000" text-anchor="middle" textLength="17.8" lengthAdjust="spacingAndGlyphs">F1</text>
<rect x="183.50" y="692.95" width="22.30" height="52.65" fill="#bdbdbd" />
<line x1="194.65" y1="692.95" x2="194.65" y2="688.45" stroke="#000" stroke-width="1.3" />
<line x1="193.00" y1="688.95" x2="196.30" y2="688.95" stroke="#000" stroke-width="1.4" />
<rect x="205.80" y="643.00" width="22.20" height="102.60" fill="#000" />
<line x1="216.90" y1="643.00" x2="216.90" y2="625.90" stroke="#000" stroke-width="1.3" />
<line x1="215.20" y1="626.40" x2="218.60" y2="626.40" stroke="#000" stroke-width="1.4" />
<text x="206.30" y="764.70" font-size="16.4" font-weight="bold" fill="#000" text-anchor="middle" textLength="17.8" lengthAdjust="spacingAndGlyphs">F2</text>
<rect x="238.10" y="687.55" width="22.30" height="58.05" fill="#bdbdbd" />
<line x1="249.25" y1="687.55" x2="249.25" y2="685.48" stroke="#000" stroke-width="1.3" />
<line x1="247.60" y1="685.98" x2="250.90" y2="685.98" stroke="#000" stroke-width="1.4" />
<rect x="260.40" y="650.20" width="22.20" height="95.40" fill="#000" />
<line x1="271.50" y1="650.20" x2="271.50" y2="635.80" stroke="#000" stroke-width="1.3" />
<line x1="269.80" y1="636.30" x2="273.20" y2="636.30" stroke="#000" stroke-width="1.4" />
<text x="260.90" y="764.70" font-size="16.4" font-weight="bold" fill="#000" text-anchor="middle" textLength="17.8" lengthAdjust="spacingAndGlyphs">F3</text>
<rect x="292.70" y="690.52" width="22.30" height="55.08" fill="#bdbdbd" />
<line x1="303.85" y1="690.52" x2="303.85" y2="685.39" stroke="#000" stroke-width="1.3" />
<line x1="302.20" y1="685.89" x2="305.50" y2="685.89" stroke="#000" stroke-width="1.4" />
<rect x="315.00" y="655.87" width="22.20" height="89.73" fill="#000" />
<line x1="326.10" y1="655.87" x2="326.10" y2="636.79" stroke="#000" stroke-width="1.3" />
<line x1="324.40" y1="637.29" x2="327.80" y2="637.29" stroke="#000" stroke-width="1.4" />
<text x="315.50" y="764.70" font-size="16.4" font-weight="bold" fill="#000" text-anchor="middle" textLength="17.8" lengthAdjust="spacingAndGlyphs">F4</text>
<rect x="369.60" y="655.33" width="22.20" height="90.27" fill="#000" />
<line x1="380.70" y1="655.33" x2="380.70" y2="627.43" stroke="#000" stroke-width="1.3" />
<line x1="379.00" y1="627.93" x2="382.40" y2="627.93" stroke="#000" stroke-width="1.4" />
<text x="370.10" y="764.70" font-size="16.4" font-weight="bold" fill="#000" text-anchor="middle" textLength="17.8" lengthAdjust="spacingAndGlyphs">F5</text>
<rect x="424.20" y="665.32" width="22.20" height="80.28" fill="#000" />
<line x1="435.30" y1="665.32" x2="435.30" y2="656.32" stroke="#000" stroke-width="1.3" />
<line x1="433.60" y1="656.82" x2="437.00" y2="656.82" stroke="#000" stroke-width="1.4" />
<text x="424.70" y="764.70" font-size="16.4" font-weight="bold" fill="#000" text-anchor="middle" textLength="17.8" lengthAdjust="spacingAndGlyphs">F6</text>
<path d="M162.25 543.85L162.25 539.10M162.25 543.85L166.77 542.38M162.25 543.85L165.04 547.69M162.25 543.85L159.46 547.69M162.25 543.85L157.73 542.38" stroke="#000" stroke-width="2.5" stroke-linecap="round" fill="none"/>
<path d="M218.10 598.60L218.10 593.75M218.10 598.60L222.71 597.10M218.10 598.60L220.95 602.52M218.10 598.60L215.25 602.52M218.10 598.60L213.49 597.10" stroke="#000" stroke-width="2.5" stroke-linecap="round" fill="none"/>
<path d="M272.45 607.80L272.45 602.95M272.45 607.80L277.06 606.30M272.45 607.80L275.30 611.72M272.45 607.80L269.60 611.72M272.45 607.80L267.84 606.30" stroke="#000" stroke-width="2.5" stroke-linecap="round" fill="none"/>
<line x1="124.40" y1="565.00" x2="124.40" y2="746.20" stroke="#111" stroke-width="1.4" />
<line x1="123.80" y1="745.60" x2="452.40" y2="745.60" stroke="#111" stroke-width="1.4" />
<line x1="124.40" y1="745.60" x2="128.60" y2="745.60" stroke="#222" stroke-width="1" />
<line x1="124.40" y1="736.60" x2="127.60" y2="736.60" stroke="#222" stroke-width="1" />
<line x1="124.40" y1="727.60" x2="127.60" y2="727.60" stroke="#222" stroke-width="1" />
<line x1="124.40" y1="718.60" x2="127.60" y2="718.60" stroke="#222" stroke-width="1" />
<line x1="124.40" y1="709.60" x2="127.60" y2="709.60" stroke="#222" stroke-width="1" />
<line x1="124.40" y1="700.60" x2="128.60" y2="700.60" stroke="#222" stroke-width="1" />
<line x1="124.40" y1="691.60" x2="127.60" y2="691.60" stroke="#222" stroke-width="1" />
<line x1="124.40" y1="682.60" x2="127.60" y2="682.60" stroke="#222" stroke-width="1" />
<line x1="124.40" y1="673.60" x2="127.60" y2="673.60" stroke="#222" stroke-width="1" />
<line x1="124.40" y1="664.60" x2="127.60" y2="664.60" stroke="#222" stroke-width="1" />
<line x1="124.40" y1="655.60" x2="128.60" y2="655.60" stroke="#222" stroke-width="1" />
<line x1="124.40" y1="646.60" x2="127.60" y2="646.60" stroke="#222" stroke-width="1" />
<line x1="124.40" y1="637.60" x2="127.60" y2="637.60" stroke="#222" stroke-width="1" />
<line x1="124.40" y1="628.60" x2="127.60" y2="628.60" stroke="#222" stroke-width="1" />
<line x1="124.40" y1="619.60" x2="127.60" y2="619.60" stroke="#222" stroke-width="1" />
<line x1="124.40" y1="610.60" x2="128.60" y2="610.60" stroke="#222" stroke-width="1" />
<line x1="124.40" y1="601.60" x2="127.60" y2="601.60" stroke="#222" stroke-width="1" />
<line x1="124.40" y1="592.60" x2="127.60" y2="592.60" stroke="#222" stroke-width="1" />
<line x1="124.40" y1="583.60" x2="127.60" y2="583.60" stroke="#222" stroke-width="1" />
<line x1="124.40" y1="574.60" x2="127.60" y2="574.60" stroke="#222" stroke-width="1" />
<line x1="124.40" y1="565.60" x2="128.60" y2="565.60" stroke="#222" stroke-width="1" />
<line x1="179.00" y1="745.60" x2="179.00" y2="741.60" stroke="#222" stroke-width="1" />
<line x1="233.60" y1="745.60" x2="233.60" y2="741.60" stroke="#222" stroke-width="1" />
<line x1="288.20" y1="745.60" x2="288.20" y2="741.60" stroke="#222" stroke-width="1" />
<line x1="342.80" y1="745.60" x2="342.80" y2="741.60" stroke="#222" stroke-width="1" />
<line x1="397.40" y1="745.60" x2="397.40" y2="741.60" stroke="#222" stroke-width="1" />
<line x1="452.00" y1="745.60" x2="452.00" y2="741.60" stroke="#222" stroke-width="1" />
<text x="115.90" y="751.20" font-size="15.8" font-weight="bold" fill="#000" text-anchor="end" >0</text>
<text x="115.90" y="706.20" font-size="15.8" font-weight="bold" fill="#000" text-anchor="end" >50</text>
<text x="115.90" y="661.20" font-size="15.8" font-weight="bold" fill="#000" text-anchor="end" >100</text>
<text x="115.90" y="616.20" font-size="15.8" font-weight="bold" fill="#000" text-anchor="end" >150</text>
<text x="115.90" y="571.20" font-size="15.8" font-weight="bold" fill="#000" text-anchor="end" >200</text>
<text transform="translate(71.30,656.80) rotate(-90)" x="0" y="0" font-size="16.4" font-weight="bold" fill="#000" text-anchor="middle" textLength="188.6" lengthAdjust="spacingAndGlyphs">Normalized ROS activity</text>
<text x="298.10" y="792.00" font-size="20" font-weight="bold" fill="#000" text-anchor="middle" textLength="91.6" lengthAdjust="spacingAndGlyphs">Fractions</text>
<rect x="348.30" y="575.00" width="10.60" height="10.00" fill="#bdbdbd" />
<rect x="348.30" y="592.70" width="10.60" height="9.80" fill="#000" />
<text x="367.00" y="585.00" font-size="16" font-weight="bold" fill="#bdbdbd" text-anchor="start" >AA</text>
<text x="367.00" y="602.50" font-size="16" font-weight="bold" fill="#000" text-anchor="start" >SS</text>
</svg></body></html>
